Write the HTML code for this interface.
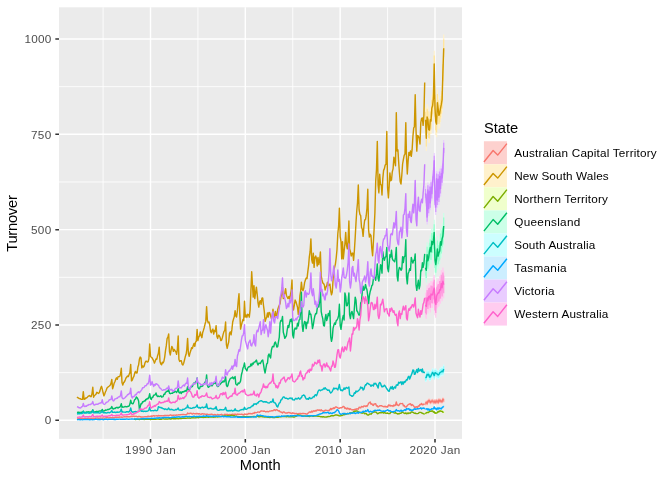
<!DOCTYPE html>
<html lang="en"><head><meta charset="utf-8"><title>Turnover by State</title>
<style>html,body{margin:0;padding:0;background:#fff}body{width:672px;height:480px;overflow:hidden;font-family:"Liberation Sans",sans-serif}svg{display:block}text{font-family:"Liberation Sans",sans-serif}.ax{font-size:11.73px;fill:#4D4D4D}.tt{font-size:14.67px;fill:#000}.lg{font-size:11.73px;fill:#000}.s{fill:none;stroke-width:1.42;stroke-linejoin:round;stroke-linecap:butt}</style></head><body>
<svg width="672" height="480" viewBox="0 0 672 480" role="img" aria-label="Turnover by State over Month">
<rect width="672" height="480" fill="#fff"/>
<rect x="59.00" y="7.30" width="403.00" height="431.60" fill="#EBEBEB"/>
<clipPath id="pc"><rect x="59.00" y="7.30" width="403.00" height="431.60"/></clipPath>
<path d="M59.00 372.64H462.00M59.00 277.31H462.00M59.00 181.99H462.00M59.00 86.66H462.00M103.08 7.30V438.90M197.92 7.30V438.90M292.75 7.30V438.90M387.58 7.30V438.90" stroke="#fff" stroke-width="0.85" fill="none"/>
<path d="M59.00 420.30H462.00M59.00 324.98H462.00M59.00 229.65H462.00M59.00 134.33H462.00M59.00 39.00H462.00M150.50 7.30V438.90M245.33 7.30V438.90M340.17 7.30V438.90M435.00 7.30V438.90" stroke="#fff" stroke-width="1.42" fill="none"/>
<path d="M55.33 420.30H59.00M55.33 324.98H59.00M55.33 229.65H59.00M55.33 134.33H59.00M55.33 39.00H59.00M150.50 438.90V442.57M245.33 438.90V442.57M340.17 438.90V442.57M435.00 438.90V442.57" stroke="#333" stroke-width="1.55" fill="none"/>
<text class="ax" x="44.80" y="424.00" textLength="6.01" lengthAdjust="spacing">0</text>
<text class="ax" x="30.90" y="329.18" textLength="20.28" lengthAdjust="spacing">250</text>
<text class="ax" x="30.90" y="233.85" textLength="20.28" lengthAdjust="spacing">500</text>
<text class="ax" x="30.90" y="138.53" textLength="20.28" lengthAdjust="spacing">750</text>
<text class="ax" x="24.40" y="43.20" textLength="26.80" lengthAdjust="spacing">1000</text>
<text class="ax" x="125.10" y="453.9" textLength="50.70" lengthAdjust="spacing">1990 Jan</text>
<text class="ax" x="219.93" y="453.9" textLength="50.70" lengthAdjust="spacing">2000 Jan</text>
<text class="ax" x="314.77" y="453.9" textLength="50.70" lengthAdjust="spacing">2010 Jan</text>
<text class="ax" x="409.60" y="453.9" textLength="50.70" lengthAdjust="spacing">2020 Jan</text>
<text class="tt" x="260.2" y="470" text-anchor="middle">Month</text>
<text class="tt" transform="translate(16.6 251.8) rotate(-90)" x="-0.00" y="0" textLength="56.59" lengthAdjust="spacing">Turnover</text>
<g clip-path="url(#pc)">
<polygon fill="#FDD1CE" points="425.5,401.5 426.3,400.3 427.1,401.3 427.9,399.4 428.7,398.6 429.5,398.6 430.3,400.2 431.0,399.6 431.8,398.9 432.6,398.8 433.4,399.7 434.2,400.0 435.0,399.0 435.8,400.1 436.6,398.8 437.4,399.1 438.2,400.1 438.9,397.9 439.7,398.7 440.5,398.5 441.3,399.2 442.1,399.2 442.9,397.2 443.7,398.1 443.7,402.7 442.9,401.8 442.1,403.8 441.3,403.7 440.5,403.0 439.7,403.3 438.9,402.4 438.2,404.7 437.4,403.6 436.6,403.3 435.8,404.7 435.0,403.5 434.2,404.5 433.4,404.2 432.6,403.2 431.8,403.3 431.0,404.0 430.3,404.6 429.5,403.0 428.7,403.0 427.9,403.8 427.1,405.6 426.3,404.6 425.5,405.7"/>
<path fill="#FDD1CE" d="M424.9 401.5h1.2v4.2h-1.2zM425.7 400.3h1.2v4.3h-1.2zM426.5 401.3h1.2v4.3h-1.2zM427.3 399.4h1.2v4.3h-1.2zM428.1 398.6h1.2v4.4h-1.2zM428.9 398.6h1.2v4.4h-1.2zM429.7 400.2h1.2v4.4h-1.2zM430.4 399.6h1.2v4.4h-1.2zM431.2 398.9h1.2v4.4h-1.2zM432.0 398.8h1.2v4.5h-1.2zM432.8 399.7h1.2v4.5h-1.2zM433.6 400.0h1.2v4.5h-1.2zM434.4 399.0h1.2v4.5h-1.2zM435.2 400.1h1.2v4.5h-1.2zM436.0 398.8h1.2v4.5h-1.2zM436.8 399.1h1.2v4.5h-1.2zM437.6 400.1h1.2v4.5h-1.2zM438.3 397.9h1.2v4.6h-1.2zM439.1 398.7h1.2v4.6h-1.2zM439.9 398.5h1.2v4.6h-1.2zM440.7 399.2h1.2v4.6h-1.2zM441.5 399.2h1.2v4.6h-1.2zM442.3 397.2h1.2v4.6h-1.2zM443.1 398.1h1.2v4.6h-1.2z"/>
<polygon fill="#FAA49E" points="425.5,402.3 426.3,401.1 427.1,402.1 427.9,400.2 428.7,399.4 429.5,399.4 430.3,401.0 431.0,400.4 431.8,399.7 432.6,399.6 433.4,400.5 434.2,400.8 435.0,399.8 435.8,401.0 436.6,399.6 437.4,399.9 438.2,401.0 438.9,398.7 439.7,399.5 440.5,399.3 441.3,400.0 442.1,400.1 442.9,398.0 443.7,398.9 443.7,401.9 442.9,400.9 442.1,403.0 441.3,402.9 440.5,402.2 439.7,402.5 438.9,401.6 438.2,403.9 437.4,402.8 436.6,402.5 435.8,403.8 435.0,402.7 434.2,403.6 433.4,403.4 432.6,402.4 431.8,402.5 431.0,403.2 430.3,403.8 429.5,402.2 428.7,402.2 427.9,403.0 427.1,404.8 426.3,403.8 425.5,404.9"/>
<path fill="#FAA49E" d="M424.9 402.3h1.2v2.7h-1.2zM425.7 401.1h1.2v2.7h-1.2zM426.5 402.1h1.2v2.8h-1.2zM427.3 400.2h1.2v2.8h-1.2zM428.1 399.4h1.2v2.8h-1.2zM428.9 399.4h1.2v2.8h-1.2zM429.7 401.0h1.2v2.8h-1.2zM430.4 400.4h1.2v2.8h-1.2zM431.2 399.7h1.2v2.8h-1.2zM432.0 399.6h1.2v2.9h-1.2zM432.8 400.5h1.2v2.9h-1.2zM433.6 400.8h1.2v2.9h-1.2zM434.4 399.8h1.2v2.9h-1.2zM435.2 401.0h1.2v2.9h-1.2zM436.0 399.6h1.2v2.9h-1.2zM436.8 399.9h1.2v2.9h-1.2zM437.6 401.0h1.2v2.9h-1.2zM438.3 398.7h1.2v2.9h-1.2zM439.1 399.5h1.2v2.9h-1.2zM439.9 399.3h1.2v2.9h-1.2zM440.7 400.0h1.2v2.9h-1.2zM441.5 400.1h1.2v2.9h-1.2zM442.3 398.0h1.2v3.0h-1.2zM443.1 398.9h1.2v3.0h-1.2z"/>
<polygon fill="#FFF1CC" points="425.5,107.4 426.3,125.7 427.1,104.1 427.9,106.5 428.7,116.8 429.5,117.2 430.3,106.7 431.0,108.0 431.8,95.2 432.6,92.4 433.4,85.1 434.2,50.8 435.0,95.0 435.8,108.4 436.6,110.6 437.4,89.2 438.2,95.6 438.9,102.0 439.7,99.9 440.5,94.8 441.3,91.2 442.1,86.1 442.9,58.9 443.7,34.6 443.7,61.9 442.9,86.2 442.1,113.3 441.3,118.3 440.5,121.8 439.7,126.9 438.9,128.9 438.2,122.5 437.4,116.0 436.6,137.4 435.8,135.1 435.0,121.6 434.2,77.2 433.4,111.5 432.6,118.7 431.8,121.4 431.0,134.1 430.3,132.7 429.5,143.1 428.7,142.6 427.9,132.2 427.1,129.6 426.3,150.9 425.5,132.1"/>
<path fill="#FFF1CC" d="M424.9 107.4h1.2v24.7h-1.2zM425.7 125.7h1.2v25.2h-1.2zM426.5 104.1h1.2v25.5h-1.2zM427.3 106.5h1.2v25.6h-1.2zM428.1 116.8h1.2v25.8h-1.2zM428.9 117.2h1.2v25.9h-1.2zM429.7 106.7h1.2v26.0h-1.2zM430.4 108.0h1.2v26.1h-1.2zM431.2 95.2h1.2v26.2h-1.2zM432.0 92.4h1.2v26.3h-1.2zM432.8 85.1h1.2v26.4h-1.2zM433.6 50.8h1.2v26.5h-1.2zM434.4 95.0h1.2v26.6h-1.2zM435.2 108.4h1.2v26.7h-1.2zM436.0 110.6h1.2v26.7h-1.2zM436.8 89.2h1.2v26.8h-1.2zM437.6 95.6h1.2v26.9h-1.2zM438.3 102.0h1.2v26.9h-1.2zM439.1 99.9h1.2v27.0h-1.2zM439.9 94.8h1.2v27.1h-1.2zM440.7 91.2h1.2v27.1h-1.2zM441.5 86.1h1.2v27.2h-1.2zM442.3 58.9h1.2v27.2h-1.2zM443.1 34.6h1.2v27.3h-1.2z"/>
<polygon fill="#FFE499" points="425.5,111.8 426.3,130.2 427.1,108.7 427.9,111.2 428.7,121.5 429.5,121.8 430.3,111.4 431.0,112.7 431.8,99.9 432.6,97.2 433.4,89.8 434.2,55.5 435.0,99.8 435.8,113.2 436.6,115.4 437.4,94.0 438.2,100.4 438.9,106.8 439.7,104.7 440.5,99.6 441.3,96.0 442.1,91.0 442.9,63.9 443.7,39.5 443.7,57.0 442.9,81.3 442.1,108.4 441.3,113.4 440.5,116.9 439.7,122.0 438.9,124.0 438.2,117.6 437.4,111.1 436.6,132.6 435.8,130.3 435.0,116.8 434.2,72.5 433.4,106.7 432.6,114.0 431.8,116.7 431.0,129.4 430.3,128.0 429.5,138.4 428.7,138.0 427.9,127.6 427.1,125.0 426.3,146.4 425.5,127.6"/>
<path fill="#FFE499" d="M424.9 111.8h1.2v15.8h-1.2zM425.7 130.2h1.2v16.2h-1.2zM426.5 108.7h1.2v16.3h-1.2zM427.3 111.2h1.2v16.4h-1.2zM428.1 121.5h1.2v16.5h-1.2zM428.9 121.8h1.2v16.6h-1.2zM429.7 111.4h1.2v16.7h-1.2zM430.4 112.7h1.2v16.7h-1.2zM431.2 99.9h1.2v16.8h-1.2zM432.0 97.2h1.2v16.8h-1.2zM432.8 89.8h1.2v16.9h-1.2zM433.6 55.5h1.2v17.0h-1.2zM434.4 99.8h1.2v17.0h-1.2zM435.2 113.2h1.2v17.1h-1.2zM436.0 115.4h1.2v17.1h-1.2zM436.8 94.0h1.2v17.2h-1.2zM437.6 100.4h1.2v17.2h-1.2zM438.3 106.8h1.2v17.2h-1.2zM439.1 104.7h1.2v17.3h-1.2zM439.9 99.6h1.2v17.3h-1.2zM440.7 96.0h1.2v17.4h-1.2zM441.5 91.0h1.2v17.4h-1.2zM442.3 63.9h1.2v17.4h-1.2zM443.1 39.5h1.2v17.5h-1.2z"/>
<polygon fill="#F0FFCC" points="425.5,412.9 426.3,411.7 427.1,411.6 427.9,411.5 428.7,411.6 429.5,410.3 430.3,410.4 431.0,410.5 431.8,410.1 432.6,410.0 433.4,411.3 434.2,410.9 435.0,412.2 435.8,412.1 436.6,412.2 437.4,411.6 438.2,410.4 438.9,410.9 439.7,410.1 440.5,409.9 441.3,410.5 442.1,410.4 442.9,411.2 443.7,411.5 443.7,413.3 442.9,413.1 442.1,412.3 441.3,412.3 440.5,411.8 439.7,411.9 438.9,412.8 438.2,412.3 437.4,413.4 436.6,414.0 435.8,413.9 435.0,414.1 434.2,412.7 433.4,413.1 432.6,411.8 431.8,411.9 431.0,412.3 430.3,412.2 429.5,412.1 428.7,413.4 427.9,413.3 427.1,413.4 426.3,413.5 425.5,414.6"/>
<path fill="#F0FFCC" d="M424.9 412.9h1.2v1.7h-1.2zM425.7 411.7h1.2v1.7h-1.2zM426.5 411.6h1.2v1.8h-1.2zM427.3 411.5h1.2v1.8h-1.2zM428.1 411.6h1.2v1.8h-1.2zM428.9 410.3h1.2v1.8h-1.2zM429.7 410.4h1.2v1.8h-1.2zM430.4 410.5h1.2v1.8h-1.2zM431.2 410.1h1.2v1.8h-1.2zM432.0 410.0h1.2v1.8h-1.2zM432.8 411.3h1.2v1.8h-1.2zM433.6 410.9h1.2v1.8h-1.2zM434.4 412.2h1.2v1.8h-1.2zM435.2 412.1h1.2v1.8h-1.2zM436.0 412.2h1.2v1.9h-1.2zM436.8 411.6h1.2v1.9h-1.2zM437.6 410.4h1.2v1.9h-1.2zM438.3 410.9h1.2v1.9h-1.2zM439.1 410.1h1.2v1.9h-1.2zM439.9 409.9h1.2v1.9h-1.2zM440.7 410.5h1.2v1.9h-1.2zM441.5 410.4h1.2v1.9h-1.2zM442.3 411.2h1.2v1.9h-1.2zM443.1 411.5h1.2v1.9h-1.2z"/>
<polygon fill="#E2FF99" points="425.5,413.2 426.3,412.0 427.1,412.0 427.9,411.8 428.7,412.0 429.5,410.7 430.3,410.7 431.0,410.8 431.8,410.4 432.6,410.3 433.4,411.6 434.2,411.2 435.0,412.6 435.8,412.4 436.6,412.5 437.4,411.9 438.2,410.8 438.9,411.3 439.7,410.4 440.5,410.3 441.3,410.8 442.1,410.8 442.9,411.5 443.7,411.8 443.7,413.0 442.9,412.7 442.1,412.0 441.3,412.0 440.5,411.5 439.7,411.6 438.9,412.5 438.2,412.0 437.4,413.1 436.6,413.7 435.8,413.6 435.0,413.8 434.2,412.4 433.4,412.8 432.6,411.5 431.8,411.6 431.0,412.0 430.3,411.9 429.5,411.8 428.7,413.1 427.9,413.0 427.1,413.1 426.3,413.1 425.5,414.3"/>
<path fill="#E2FF99" d="M424.9 413.2h1.2v1.1h-1.2zM425.7 412.0h1.2v1.1h-1.2zM426.5 412.0h1.2v1.1h-1.2zM427.3 411.8h1.2v1.1h-1.2zM428.1 412.0h1.2v1.1h-1.2zM428.9 410.7h1.2v1.1h-1.2zM429.7 410.7h1.2v1.2h-1.2zM430.4 410.8h1.2v1.2h-1.2zM431.2 410.4h1.2v1.2h-1.2zM432.0 410.3h1.2v1.2h-1.2zM432.8 411.6h1.2v1.2h-1.2zM433.6 411.2h1.2v1.2h-1.2zM434.4 412.6h1.2v1.2h-1.2zM435.2 412.4h1.2v1.2h-1.2zM436.0 412.5h1.2v1.2h-1.2zM436.8 411.9h1.2v1.2h-1.2zM437.6 410.8h1.2v1.2h-1.2zM438.3 411.3h1.2v1.2h-1.2zM439.1 410.4h1.2v1.2h-1.2zM439.9 410.3h1.2v1.2h-1.2zM440.7 410.8h1.2v1.2h-1.2zM441.5 410.8h1.2v1.2h-1.2zM442.3 411.5h1.2v1.2h-1.2zM443.1 411.8h1.2v1.2h-1.2z"/>
<polygon fill="#CCFFE8" points="425.5,255.9 426.3,258.2 427.1,242.3 427.9,248.5 428.7,245.0 429.5,238.8 430.3,234.9 431.0,239.4 431.8,228.5 432.6,231.9 433.4,228.2 434.2,219.7 435.0,247.0 435.8,251.8 436.6,245.5 437.4,236.0 438.2,243.2 438.9,240.2 439.7,238.1 440.5,228.7 441.3,232.0 442.1,225.8 442.9,223.0 443.7,212.9 443.7,239.1 442.9,249.2 442.1,251.9 441.3,258.1 440.5,254.7 439.7,264.1 438.9,266.1 438.2,269.0 437.4,261.7 436.6,271.2 435.8,277.4 435.0,272.5 434.2,245.2 433.4,253.6 432.6,257.2 431.8,253.8 431.0,264.5 430.3,259.9 429.5,263.7 428.7,269.8 427.9,273.2 427.1,266.8 426.3,282.4 425.5,279.7"/>
<path fill="#CCFFE8" d="M424.9 255.9h1.2v23.8h-1.2zM425.7 258.2h1.2v24.3h-1.2zM426.5 242.3h1.2v24.5h-1.2zM427.3 248.5h1.2v24.7h-1.2zM428.1 245.0h1.2v24.8h-1.2zM428.9 238.8h1.2v24.9h-1.2zM429.7 234.9h1.2v25.0h-1.2zM430.4 239.4h1.2v25.1h-1.2zM431.2 228.5h1.2v25.2h-1.2zM432.0 231.9h1.2v25.3h-1.2zM432.8 228.2h1.2v25.4h-1.2zM433.6 219.7h1.2v25.5h-1.2zM434.4 247.0h1.2v25.6h-1.2zM435.2 251.8h1.2v25.6h-1.2zM436.0 245.5h1.2v25.7h-1.2zM436.8 236.0h1.2v25.8h-1.2zM437.6 243.2h1.2v25.8h-1.2zM438.3 240.2h1.2v25.9h-1.2zM439.1 238.1h1.2v26.0h-1.2zM439.9 228.7h1.2v26.0h-1.2zM440.7 232.0h1.2v26.1h-1.2zM441.5 225.8h1.2v26.1h-1.2zM442.3 223.0h1.2v26.2h-1.2zM443.1 212.9h1.2v26.2h-1.2z"/>
<polygon fill="#99FFD0" points="425.5,260.2 426.3,262.5 427.1,246.7 427.9,252.9 428.7,249.5 429.5,243.3 430.3,239.4 431.0,243.9 431.8,233.1 432.6,236.5 433.4,232.8 434.2,224.3 435.0,251.6 435.8,256.4 436.6,250.1 437.4,240.6 438.2,247.8 438.9,244.9 439.7,242.8 440.5,233.4 441.3,236.7 442.1,230.5 442.9,227.7 443.7,217.6 443.7,234.4 442.9,244.5 442.1,247.2 441.3,253.4 440.5,250.0 439.7,259.4 438.9,261.4 438.2,264.4 437.4,257.1 436.6,266.5 435.8,272.8 435.0,267.9 434.2,240.6 433.4,249.1 432.6,252.7 431.8,249.2 431.0,260.0 430.3,255.4 429.5,259.2 428.7,265.4 427.9,268.7 427.1,262.4 426.3,278.1 425.5,275.4"/>
<path fill="#99FFD0" d="M424.9 260.2h1.2v15.2h-1.2zM425.7 262.5h1.2v15.5h-1.2zM426.5 246.7h1.2v15.7h-1.2zM427.3 252.9h1.2v15.8h-1.2zM428.1 249.5h1.2v15.9h-1.2zM428.9 243.3h1.2v15.9h-1.2zM429.7 239.4h1.2v16.0h-1.2zM430.4 243.9h1.2v16.1h-1.2zM431.2 233.1h1.2v16.1h-1.2zM432.0 236.5h1.2v16.2h-1.2zM432.8 232.8h1.2v16.3h-1.2zM433.6 224.3h1.2v16.3h-1.2zM434.4 251.6h1.2v16.4h-1.2zM435.2 256.4h1.2v16.4h-1.2zM436.0 250.1h1.2v16.4h-1.2zM436.8 240.6h1.2v16.5h-1.2zM437.6 247.8h1.2v16.5h-1.2zM438.3 244.9h1.2v16.6h-1.2zM439.1 242.8h1.2v16.6h-1.2zM439.9 233.4h1.2v16.7h-1.2zM440.7 236.7h1.2v16.7h-1.2zM441.5 230.5h1.2v16.7h-1.2zM442.3 227.7h1.2v16.8h-1.2zM443.1 217.6h1.2v16.8h-1.2z"/>
<polygon fill="#CCFEFF" points="425.5,374.0 426.3,373.2 427.1,370.1 427.9,370.9 428.7,370.1 429.5,372.8 430.3,372.8 431.0,371.4 431.8,369.8 432.6,368.1 433.4,369.4 434.2,371.3 435.0,368.5 435.8,368.7 436.6,369.4 437.4,369.9 438.2,370.7 438.9,370.1 439.7,368.6 440.5,367.7 441.3,367.5 442.1,366.6 442.9,367.4 443.7,364.6 443.7,373.4 442.9,376.2 442.1,375.4 441.3,376.3 440.5,376.5 439.7,377.4 438.9,378.8 438.2,379.3 437.4,378.5 436.6,378.1 435.8,377.3 435.0,377.1 434.2,379.9 433.4,377.9 432.6,376.6 431.8,378.2 431.0,379.8 430.3,381.2 429.5,381.2 428.7,378.4 427.9,379.1 427.1,378.3 426.3,381.4 425.5,382.0"/>
<path fill="#CCFEFF" d="M424.9 374.0h1.2v8.0h-1.2zM425.7 373.2h1.2v8.2h-1.2zM426.5 370.1h1.2v8.2h-1.2zM427.3 370.9h1.2v8.3h-1.2zM428.1 370.1h1.2v8.3h-1.2zM428.9 372.8h1.2v8.4h-1.2zM429.7 372.8h1.2v8.4h-1.2zM430.4 371.4h1.2v8.4h-1.2zM431.2 369.8h1.2v8.5h-1.2zM432.0 368.1h1.2v8.5h-1.2zM432.8 369.4h1.2v8.5h-1.2zM433.6 371.3h1.2v8.6h-1.2zM434.4 368.5h1.2v8.6h-1.2zM435.2 368.7h1.2v8.6h-1.2zM436.0 369.4h1.2v8.6h-1.2zM436.8 369.9h1.2v8.7h-1.2zM437.6 370.7h1.2v8.7h-1.2zM438.3 370.1h1.2v8.7h-1.2zM439.1 368.6h1.2v8.7h-1.2zM439.9 367.7h1.2v8.7h-1.2zM440.7 367.5h1.2v8.8h-1.2zM441.5 366.6h1.2v8.8h-1.2zM442.3 367.4h1.2v8.8h-1.2zM443.1 364.6h1.2v8.8h-1.2z"/>
<polygon fill="#99FCFF" points="425.5,375.4 426.3,374.7 427.1,371.5 427.9,372.3 428.7,371.6 429.5,374.4 430.3,374.3 431.0,372.9 431.8,371.3 432.6,369.7 433.4,370.9 434.2,372.9 435.0,370.0 435.8,370.2 436.6,371.0 437.4,371.4 438.2,372.2 438.9,371.7 439.7,370.2 440.5,369.3 441.3,369.1 442.1,368.2 442.9,368.9 443.7,366.2 443.7,371.8 442.9,374.6 442.1,373.8 441.3,374.7 440.5,374.9 439.7,375.8 438.9,377.2 438.2,377.8 437.4,377.0 436.6,376.5 435.8,375.8 435.0,375.5 434.2,378.3 433.4,376.4 432.6,375.1 431.8,376.7 431.0,378.3 430.3,379.7 429.5,379.7 428.7,376.9 427.9,377.7 427.1,376.8 426.3,379.9 425.5,380.6"/>
<path fill="#99FCFF" d="M424.9 375.4h1.2v5.1h-1.2zM425.7 374.7h1.2v5.2h-1.2zM426.5 371.5h1.2v5.3h-1.2zM427.3 372.3h1.2v5.3h-1.2zM428.1 371.6h1.2v5.3h-1.2zM428.9 374.4h1.2v5.4h-1.2zM429.7 374.3h1.2v5.4h-1.2zM430.4 372.9h1.2v5.4h-1.2zM431.2 371.3h1.2v5.4h-1.2zM432.0 369.7h1.2v5.4h-1.2zM432.8 370.9h1.2v5.5h-1.2zM433.6 372.9h1.2v5.5h-1.2zM434.4 370.0h1.2v5.5h-1.2zM435.2 370.2h1.2v5.5h-1.2zM436.0 371.0h1.2v5.5h-1.2zM436.8 371.4h1.2v5.5h-1.2zM437.6 372.2h1.2v5.6h-1.2zM438.3 371.7h1.2v5.6h-1.2zM439.1 370.2h1.2v5.6h-1.2zM439.9 369.3h1.2v5.6h-1.2zM440.7 369.1h1.2v5.6h-1.2zM441.5 368.2h1.2v5.6h-1.2zM442.3 368.9h1.2v5.6h-1.2zM443.1 366.2h1.2v5.6h-1.2z"/>
<polygon fill="#CCEEFF" points="425.5,408.1 426.3,408.0 427.1,407.7 427.9,408.9 428.7,407.9 429.5,409.3 430.3,408.6 431.0,408.4 431.8,407.7 432.6,407.9 433.4,407.8 434.2,406.0 435.0,407.7 435.8,407.5 436.6,408.6 437.4,407.1 438.2,408.0 438.9,406.8 439.7,407.5 440.5,407.3 441.3,407.7 442.1,406.6 442.9,406.0 443.7,405.3 443.7,407.4 442.9,408.1 442.1,408.6 441.3,409.8 440.5,409.4 439.7,409.6 438.9,408.9 438.2,410.0 437.4,409.2 436.6,410.7 435.8,409.5 435.0,409.7 434.2,408.0 433.4,409.8 432.6,409.9 431.8,409.7 431.0,410.4 430.3,410.6 429.5,411.3 428.7,409.9 427.9,410.9 427.1,409.6 426.3,410.0 425.5,410.0"/>
<path fill="#CCEEFF" d="M424.9 408.1h1.2v1.9h-1.2zM425.7 408.0h1.2v1.9h-1.2zM426.5 407.7h1.2v2.0h-1.2zM427.3 408.9h1.2v2.0h-1.2zM428.1 407.9h1.2v2.0h-1.2zM428.9 409.3h1.2v2.0h-1.2zM429.7 408.6h1.2v2.0h-1.2zM430.4 408.4h1.2v2.0h-1.2zM431.2 407.7h1.2v2.0h-1.2zM432.0 407.9h1.2v2.0h-1.2zM432.8 407.8h1.2v2.0h-1.2zM433.6 406.0h1.2v2.0h-1.2zM434.4 407.7h1.2v2.0h-1.2zM435.2 407.5h1.2v2.1h-1.2zM436.0 408.6h1.2v2.1h-1.2zM436.8 407.1h1.2v2.1h-1.2zM437.6 408.0h1.2v2.1h-1.2zM438.3 406.8h1.2v2.1h-1.2zM439.1 407.5h1.2v2.1h-1.2zM439.9 407.3h1.2v2.1h-1.2zM440.7 407.7h1.2v2.1h-1.2zM441.5 406.6h1.2v2.1h-1.2zM442.3 406.0h1.2v2.1h-1.2zM443.1 405.3h1.2v2.1h-1.2z"/>
<polygon fill="#99DDFF" points="425.5,408.5 426.3,408.4 427.1,408.0 427.9,409.3 428.7,408.3 429.5,409.7 430.3,409.0 431.0,408.8 431.8,408.0 432.6,408.2 433.4,408.2 434.2,406.3 435.0,408.0 435.8,407.8 436.6,409.0 437.4,407.5 438.2,408.3 438.9,407.2 439.7,407.9 440.5,407.7 441.3,408.1 442.1,406.9 442.9,406.4 443.7,405.7 443.7,407.1 442.9,407.7 442.1,408.3 441.3,409.4 440.5,409.1 439.7,409.3 438.9,408.5 438.2,409.7 437.4,408.8 436.6,410.3 435.8,409.1 435.0,409.4 434.2,407.7 433.4,409.5 432.6,409.5 431.8,409.3 431.0,410.1 430.3,410.2 429.5,410.9 428.7,409.5 427.9,410.6 427.1,409.3 426.3,409.6 425.5,409.7"/>
<path fill="#99DDFF" d="M424.9 408.5h1.2v1.2h-1.2zM425.7 408.4h1.2v1.2h-1.2zM426.5 408.0h1.2v1.3h-1.2zM427.3 409.3h1.2v1.3h-1.2zM428.1 408.3h1.2v1.3h-1.2zM428.9 409.7h1.2v1.3h-1.2zM429.7 409.0h1.2v1.3h-1.2zM430.4 408.8h1.2v1.3h-1.2zM431.2 408.0h1.2v1.3h-1.2zM432.0 408.2h1.2v1.3h-1.2zM432.8 408.2h1.2v1.3h-1.2zM433.6 406.3h1.2v1.3h-1.2zM434.4 408.0h1.2v1.3h-1.2zM435.2 407.8h1.2v1.3h-1.2zM436.0 409.0h1.2v1.3h-1.2zM436.8 407.5h1.2v1.3h-1.2zM437.6 408.3h1.2v1.3h-1.2zM438.3 407.2h1.2v1.3h-1.2zM439.1 407.9h1.2v1.3h-1.2zM439.9 407.7h1.2v1.3h-1.2zM440.7 408.1h1.2v1.3h-1.2zM441.5 406.9h1.2v1.3h-1.2zM442.3 406.4h1.2v1.3h-1.2zM443.1 405.7h1.2v1.3h-1.2z"/>
<polygon fill="#E9CCFF" points="425.5,186.3 426.3,191.3 427.1,209.8 427.9,182.6 428.7,201.1 429.5,184.0 430.3,195.3 431.0,179.6 431.8,186.0 432.6,173.8 433.4,167.6 434.2,153.1 435.0,192.5 435.8,199.5 436.6,170.9 437.4,192.3 438.2,171.5 438.9,189.4 439.7,168.6 440.5,180.8 441.3,165.7 442.1,170.0 442.9,160.7 443.7,140.0 443.7,155.7 442.9,176.4 442.1,185.7 441.3,181.4 440.5,196.4 439.7,184.2 438.9,204.9 438.2,187.0 437.4,207.7 436.6,186.3 435.8,214.8 435.0,207.8 434.2,168.4 433.4,182.8 432.6,189.0 431.8,201.1 431.0,194.7 430.3,210.4 429.5,198.9 428.7,216.0 427.9,197.4 427.1,224.5 426.3,205.9 425.5,200.6"/>
<path fill="#E9CCFF" d="M424.9 186.3h1.2v14.2h-1.2zM425.7 191.3h1.2v14.6h-1.2zM426.5 209.8h1.2v14.7h-1.2zM427.3 182.6h1.2v14.8h-1.2zM428.1 201.1h1.2v14.9h-1.2zM428.9 184.0h1.2v14.9h-1.2zM429.7 195.3h1.2v15.0h-1.2zM430.4 179.6h1.2v15.1h-1.2zM431.2 186.0h1.2v15.1h-1.2zM432.0 173.8h1.2v15.2h-1.2zM432.8 167.6h1.2v15.2h-1.2zM433.6 153.1h1.2v15.3h-1.2zM434.4 192.5h1.2v15.3h-1.2zM435.2 199.5h1.2v15.4h-1.2zM436.0 170.9h1.2v15.4h-1.2zM436.8 192.3h1.2v15.5h-1.2zM437.6 171.5h1.2v15.5h-1.2zM438.3 189.4h1.2v15.5h-1.2zM439.1 168.6h1.2v15.6h-1.2zM439.9 180.8h1.2v15.6h-1.2zM440.7 165.7h1.2v15.6h-1.2zM441.5 170.0h1.2v15.7h-1.2zM442.3 160.7h1.2v15.7h-1.2zM443.1 140.0h1.2v15.8h-1.2z"/>
<polygon fill="#D399FF" points="425.5,188.9 426.3,193.9 427.1,212.4 427.9,185.3 428.7,203.8 429.5,186.6 430.3,198.1 431.0,182.3 431.8,188.7 432.6,176.6 433.4,170.3 434.2,155.8 435.0,195.3 435.8,202.2 436.6,173.6 437.4,195.1 438.2,174.3 438.9,192.2 439.7,171.4 440.5,183.6 441.3,168.6 442.1,172.8 442.9,163.5 443.7,142.8 443.7,152.9 442.9,173.6 442.1,182.9 441.3,178.6 440.5,193.6 439.7,181.4 438.9,202.1 438.2,184.2 437.4,204.9 436.6,183.5 435.8,212.1 435.0,205.1 434.2,165.6 433.4,180.1 432.6,186.3 431.8,198.4 431.0,192.0 430.3,207.7 429.5,196.2 428.7,213.3 427.9,194.7 427.1,221.8 426.3,203.2 425.5,198.0"/>
<path fill="#D399FF" d="M424.9 188.9h1.2v9.1h-1.2zM425.7 193.9h1.2v9.3h-1.2zM426.5 212.4h1.2v9.4h-1.2zM427.3 185.3h1.2v9.5h-1.2zM428.1 203.8h1.2v9.5h-1.2zM428.9 186.6h1.2v9.6h-1.2zM429.7 198.1h1.2v9.6h-1.2zM430.4 182.3h1.2v9.6h-1.2zM431.2 188.7h1.2v9.7h-1.2zM432.0 176.6h1.2v9.7h-1.2zM432.8 170.3h1.2v9.8h-1.2zM433.6 155.8h1.2v9.8h-1.2zM434.4 195.3h1.2v9.8h-1.2zM435.2 202.2h1.2v9.8h-1.2zM436.0 173.6h1.2v9.9h-1.2zM436.8 195.1h1.2v9.9h-1.2zM437.6 174.3h1.2v9.9h-1.2zM438.3 192.2h1.2v9.9h-1.2zM439.1 171.4h1.2v10.0h-1.2zM439.9 183.6h1.2v10.0h-1.2zM440.7 168.6h1.2v10.0h-1.2zM441.5 172.8h1.2v10.0h-1.2zM442.3 163.5h1.2v10.1h-1.2zM443.1 142.8h1.2v10.1h-1.2z"/>
<polygon fill="#FFCCEF" points="425.5,292.8 426.3,293.8 427.1,285.3 427.9,287.9 428.7,283.7 429.5,283.0 430.3,286.4 431.0,280.9 431.8,281.8 432.6,281.8 433.4,277.6 434.2,274.9 435.0,288.7 435.8,291.1 436.6,282.6 437.4,280.9 438.2,279.3 438.9,279.5 439.7,276.1 440.5,276.3 441.3,269.9 442.1,274.1 442.9,267.5 443.7,270.9 443.7,298.2 442.9,294.8 442.1,301.3 441.3,297.0 440.5,303.4 439.7,303.1 438.9,306.5 438.2,306.2 437.4,307.7 436.6,309.4 435.8,317.8 435.0,315.3 434.2,301.4 433.4,304.1 432.6,308.1 431.8,308.1 431.0,307.1 430.3,312.4 429.5,309.0 428.7,309.5 427.9,313.5 427.1,310.7 426.3,319.0 425.5,317.5"/>
<path fill="#FFCCEF" d="M424.9 292.8h1.2v24.7h-1.2zM425.7 293.8h1.2v25.2h-1.2zM426.5 285.3h1.2v25.5h-1.2zM427.3 287.9h1.2v25.6h-1.2zM428.1 283.7h1.2v25.8h-1.2zM428.9 283.0h1.2v25.9h-1.2zM429.7 286.4h1.2v26.0h-1.2zM430.4 280.9h1.2v26.1h-1.2zM431.2 281.8h1.2v26.2h-1.2zM432.0 281.8h1.2v26.3h-1.2zM432.8 277.6h1.2v26.4h-1.2zM433.6 274.9h1.2v26.5h-1.2zM434.4 288.7h1.2v26.6h-1.2zM435.2 291.1h1.2v26.7h-1.2zM436.0 282.6h1.2v26.7h-1.2zM436.8 280.9h1.2v26.8h-1.2zM437.6 279.3h1.2v26.9h-1.2zM438.3 279.5h1.2v26.9h-1.2zM439.1 276.1h1.2v27.0h-1.2zM439.9 276.3h1.2v27.1h-1.2zM440.7 269.9h1.2v27.1h-1.2zM441.5 274.1h1.2v27.2h-1.2zM442.3 267.5h1.2v27.2h-1.2zM443.1 270.9h1.2v27.3h-1.2z"/>
<polygon fill="#FF99DE" points="425.5,297.2 426.3,298.4 427.1,289.9 427.9,292.5 428.7,288.3 429.5,287.7 430.3,291.1 431.0,285.6 431.8,286.5 432.6,286.5 433.4,282.4 434.2,279.7 435.0,293.5 435.8,295.9 436.6,287.4 437.4,285.7 438.2,284.1 438.9,284.4 439.7,281.0 440.5,281.2 441.3,274.8 442.1,279.0 442.9,272.4 443.7,275.8 443.7,293.3 442.9,289.9 442.1,296.4 441.3,292.1 440.5,298.5 439.7,298.2 438.9,301.6 438.2,301.3 437.4,302.8 436.6,304.6 435.8,313.0 435.0,310.5 434.2,296.6 433.4,299.3 432.6,303.4 431.8,303.3 431.0,302.4 430.3,307.7 429.5,304.3 428.7,304.8 427.9,308.9 427.1,306.1 426.3,314.5 425.5,313.0"/>
<path fill="#FF99DE" d="M424.9 297.2h1.2v15.8h-1.2zM425.7 298.4h1.2v16.2h-1.2zM426.5 289.9h1.2v16.3h-1.2zM427.3 292.5h1.2v16.4h-1.2zM428.1 288.3h1.2v16.5h-1.2zM428.9 287.7h1.2v16.6h-1.2zM429.7 291.1h1.2v16.7h-1.2zM430.4 285.6h1.2v16.7h-1.2zM431.2 286.5h1.2v16.8h-1.2zM432.0 286.5h1.2v16.8h-1.2zM432.8 282.4h1.2v16.9h-1.2zM433.6 279.7h1.2v17.0h-1.2zM434.4 293.5h1.2v17.0h-1.2zM435.2 295.9h1.2v17.1h-1.2zM436.0 287.4h1.2v17.1h-1.2zM436.8 285.7h1.2v17.2h-1.2zM437.6 284.1h1.2v17.2h-1.2zM438.3 284.4h1.2v17.2h-1.2zM439.1 281.0h1.2v17.3h-1.2zM439.9 281.2h1.2v17.3h-1.2zM440.7 274.8h1.2v17.4h-1.2zM441.5 279.0h1.2v17.4h-1.2zM442.3 272.4h1.2v17.4h-1.2zM443.1 275.8h1.2v17.5h-1.2z"/>
<polyline class="s" stroke="#F8766D" points="425.5,403.6 426.3,402.5 427.1,403.4 427.9,401.6 428.7,400.8 429.5,400.8 430.3,402.4 431.0,401.8 431.8,401.1 432.6,401.0 433.4,401.9 434.2,402.2 435.0,401.2 435.8,402.4 436.6,401.0 437.4,401.3 438.2,402.4 438.9,400.2 439.7,401.0 440.5,400.8 441.3,401.4 442.1,401.5 442.9,399.5 443.7,400.4"/>
<polyline class="s" stroke="#CD9600" points="425.5,119.7 426.3,138.3 427.1,116.9 427.9,119.4 428.7,129.7 429.5,130.1 430.3,119.7 431.0,121.1 431.8,108.3 432.6,105.6 433.4,98.3 434.2,64.0 435.0,108.3 435.8,121.7 436.6,124.0 437.4,102.6 438.2,109.0 438.9,115.4 439.7,113.4 440.5,108.3 441.3,104.7 442.1,99.7 442.9,72.6 443.7,48.3"/>
<polyline class="s" stroke="#7CAE00" points="425.5,413.8 426.3,412.6 427.1,412.5 427.9,412.4 428.7,412.5 429.5,411.2 430.3,411.3 431.0,411.4 431.8,411.0 432.6,410.9 433.4,412.2 434.2,411.8 435.0,413.2 435.8,413.0 436.6,413.1 437.4,412.5 438.2,411.4 438.9,411.9 439.7,411.0 440.5,410.9 441.3,411.4 442.1,411.4 442.9,412.1 443.7,412.4"/>
<polyline class="s" stroke="#00BE67" points="425.5,267.8 426.3,270.3 427.1,254.6 427.9,260.8 428.7,257.4 429.5,251.2 430.3,247.4 431.0,251.9 431.8,241.2 432.6,244.6 433.4,240.9 434.2,232.4 435.0,259.8 435.8,264.6 436.6,258.3 437.4,248.9 438.2,256.1 438.9,253.1 439.7,251.1 440.5,241.7 441.3,245.1 442.1,238.9 442.9,236.1 443.7,226.0"/>
<polyline class="s" stroke="#00BFC4" points="425.5,378.0 426.3,377.3 427.1,374.2 427.9,375.0 428.7,374.2 429.5,377.0 430.3,377.0 431.0,375.6 431.8,374.0 432.6,372.4 433.4,373.7 434.2,375.6 435.0,372.8 435.8,373.0 436.6,373.7 437.4,374.2 438.2,375.0 438.9,374.5 439.7,373.0 440.5,372.1 441.3,371.9 442.1,371.0 442.9,371.8 443.7,369.0"/>
<polyline class="s" stroke="#00A9FF" points="425.5,409.1 426.3,409.0 427.1,408.7 427.9,409.9 428.7,408.9 429.5,410.3 430.3,409.6 431.0,409.4 431.8,408.7 432.6,408.9 433.4,408.8 434.2,407.0 435.0,408.7 435.8,408.5 436.6,409.7 437.4,408.1 438.2,409.0 438.9,407.9 439.7,408.6 440.5,408.4 441.3,408.8 442.1,407.6 442.9,407.0 443.7,406.4"/>
<polyline class="s" stroke="#C77CFF" points="425.5,193.4 426.3,198.6 427.1,217.1 427.9,190.0 428.7,208.6 429.5,191.4 430.3,202.9 431.0,187.1 431.8,193.6 432.6,181.4 433.4,175.2 434.2,160.7 435.0,200.2 435.8,207.1 436.6,178.6 437.4,200.0 438.2,179.3 438.9,197.1 439.7,176.4 440.5,188.6 441.3,173.6 442.1,177.9 442.9,168.6 443.7,147.9"/>
<polyline class="s" stroke="#FF61CC" points="425.5,305.1 426.3,306.4 427.1,298.0 427.9,300.7 428.7,296.6 429.5,296.0 430.3,299.4 431.0,294.0 431.8,294.9 432.6,294.9 433.4,290.9 434.2,288.1 435.0,302.0 435.8,304.4 436.6,296.0 437.4,294.3 438.2,292.7 438.9,293.0 439.7,289.6 440.5,289.9 441.3,283.5 442.1,287.7 442.9,281.1 443.7,284.6"/>
<polyline class="s" stroke="#F8766D" points="77.0,418.7 77.8,418.9 78.6,418.7 79.4,418.7 80.2,418.6 81.0,418.5 81.7,418.6 82.5,418.4 83.3,418.7 84.1,418.5 84.9,418.6 85.7,418.5 86.5,418.6 87.3,418.4 88.1,418.2 88.9,418.5 89.6,418.6 90.4,418.4 91.2,418.4 92.0,418.2 92.8,418.2 93.6,418.1 94.4,418.3 95.2,418.4 96.0,418.0 96.8,418.1 97.5,418.0 98.3,418.3 99.1,418.3 99.9,418.1 100.7,418.0 101.5,418.1 102.3,418.2 103.1,417.8 103.9,418.1 104.7,418.1 105.4,417.9 106.2,417.8 107.0,417.8 107.8,417.7 108.6,417.9 109.4,417.8 110.2,417.6 111.0,417.8 111.8,417.6 112.6,417.7 113.4,417.6 114.1,417.8 114.9,417.3 115.7,417.3 116.5,417.3 117.3,417.4 118.1,417.1 118.9,417.4 119.7,417.0 120.5,417.1 121.3,417.0 122.0,417.3 122.8,417.1 123.6,416.9 124.4,416.8 125.2,416.9 126.0,416.8 126.8,416.7 127.6,416.8 128.4,416.7 129.2,416.6 129.9,416.8 130.7,416.5 131.5,416.3 132.3,416.5 133.1,416.1 133.9,416.3 134.7,416.5 135.5,416.4 136.3,416.3 137.1,416.7 137.9,416.8 138.6,416.5 139.4,416.5 140.2,416.6 141.0,417.0 141.8,416.9 142.6,417.0 143.4,416.9 144.2,416.9 145.0,416.6 145.8,416.6 146.5,416.7 147.3,416.7 148.1,416.2 148.9,416.5 149.7,416.4 150.5,416.4 151.3,416.0 152.1,416.3 152.9,415.9 153.7,415.7 154.4,416.2 155.2,415.9 156.0,415.9 156.8,415.6 157.6,416.1 158.4,415.5 159.2,415.7 160.0,415.8 160.8,415.7 161.6,415.8 162.3,415.9 163.1,415.6 163.9,415.7 164.7,415.5 165.5,415.5 166.3,415.4 167.1,415.6 167.9,415.3 168.7,415.6 169.5,415.3 170.3,415.0 171.0,415.0 171.8,415.6 172.6,415.3 173.4,415.3 174.2,415.1 175.0,415.1 175.8,415.3 176.6,414.9 177.4,415.1 178.2,414.9 178.9,414.8 179.7,414.9 180.5,414.7 181.3,414.6 182.1,414.4 182.9,414.7 183.7,414.4 184.5,414.6 185.3,414.6 186.1,414.6 186.8,414.5 187.6,413.0 188.4,413.6 189.2,413.7 190.0,413.3 190.8,413.1 191.6,413.6 192.4,414.0 193.2,413.3 194.0,413.6 194.8,413.8 195.5,413.8 196.3,413.5 197.1,413.7 197.9,413.5 198.7,414.1 199.5,413.7 200.3,414.1 201.1,414.4 201.9,413.7 202.7,413.7 203.4,414.1 204.2,414.0 205.0,414.0 205.8,414.5 206.6,414.3 207.4,414.2 208.2,414.5 209.0,414.6 209.8,414.4 210.6,414.4 211.3,414.1 212.1,414.2 212.9,414.8 213.7,415.0 214.5,414.5 215.3,414.7 216.1,415.2 216.9,414.9 217.7,414.5 218.5,414.9 219.2,414.9 220.0,414.8 220.8,414.7 221.6,414.3 222.4,414.9 223.2,415.1 224.0,414.8 224.8,414.2 225.6,414.7 226.4,414.6 227.2,414.2 227.9,414.9 228.7,414.7 229.5,414.5 230.3,414.8 231.1,414.4 231.9,414.7 232.7,414.1 233.5,414.6 234.3,414.3 235.1,414.1 235.8,414.3 236.6,414.7 237.4,414.0 238.2,414.5 239.0,414.1 239.8,414.4 240.6,414.4 241.4,414.3 242.2,414.3 243.0,414.8 243.7,414.7 244.5,414.0 245.3,414.4 246.1,414.1 246.9,414.2 247.7,414.3 248.5,413.5 249.3,413.7 250.1,413.4 250.9,413.9 251.7,413.6 252.4,413.7 253.2,413.0 254.0,413.5 254.8,412.3 255.6,412.7 256.4,412.6 257.2,412.4 258.0,411.9 258.8,412.1 259.6,412.3 260.3,411.3 261.1,411.0 261.9,411.0 262.7,411.1 263.5,411.2 264.3,411.0 265.1,411.5 265.9,412.0 266.7,411.5 267.5,411.5 268.2,411.8 269.0,411.5 269.8,411.0 270.6,411.1 271.4,410.8 272.2,410.6 273.0,410.7 273.8,410.0 274.6,409.7 275.4,410.5 276.1,409.7 276.9,409.7 277.7,410.4 278.5,411.0 279.3,410.7 280.1,411.8 280.9,412.0 281.7,412.4 282.5,413.0 283.3,411.9 284.1,412.0 284.8,412.6 285.6,413.0 286.4,412.9 287.2,413.0 288.0,412.6 288.8,412.5 289.6,412.7 290.4,413.0 291.2,413.3 292.0,413.5 292.7,412.8 293.5,413.2 294.3,413.3 295.1,413.8 295.9,413.4 296.7,413.5 297.5,414.0 298.3,413.6 299.1,413.5 299.9,413.7 300.6,413.5 301.4,413.8 302.2,413.5 303.0,413.5 303.8,413.4 304.6,413.6 305.4,413.7 306.2,414.0 307.0,414.1 307.8,413.4 308.6,412.8 309.3,412.0 310.1,412.0 310.9,412.4 311.7,411.1 312.5,412.0 313.3,411.0 314.1,410.8 314.9,411.3 315.7,410.4 316.5,410.9 317.2,409.9 318.0,410.0 318.8,410.3 319.6,410.0 320.4,410.8 321.2,409.7 322.0,410.9 322.8,410.8 323.6,411.4 324.4,411.0 325.1,410.2 325.9,410.3 326.7,410.4 327.5,410.6 328.3,410.4 329.1,410.7 329.9,409.8 330.7,408.4 331.5,409.6 332.3,408.4 333.0,408.7 333.8,407.8 334.6,408.4 335.4,407.0 336.2,407.0 337.0,407.4 337.8,407.8 338.6,408.2 339.4,408.4 340.2,407.6 341.0,407.9 341.7,407.7 342.5,407.1 343.3,406.4 344.1,406.7 344.9,408.4 345.7,408.0 346.5,409.0 347.3,408.1 348.1,408.9 348.9,408.4 349.6,409.5 350.4,408.8 351.2,409.5 352.0,410.0 352.8,409.7 353.6,409.7 354.4,409.8 355.2,409.1 356.0,409.6 356.8,408.7 357.5,408.9 358.3,409.3 359.1,407.2 359.9,407.6 360.7,407.9 361.5,406.4 362.3,406.6 363.1,407.0 363.9,406.0 364.7,406.0 365.5,406.5 366.2,405.8 367.0,406.4 367.8,405.0 368.6,403.4 369.4,402.5 370.2,402.0 371.0,404.3 371.8,403.7 372.6,405.0 373.4,405.4 374.1,403.9 374.9,404.0 375.7,403.8 376.5,406.0 377.3,405.8 378.1,407.0 378.9,406.5 379.7,405.7 380.5,405.8 381.3,405.7 382.0,406.0 382.8,406.3 383.6,406.7 384.4,406.7 385.2,406.2 386.0,407.0 386.8,406.7 387.6,407.1 388.4,405.0 389.2,405.8 389.9,405.0 390.7,406.1 391.5,405.7 392.3,405.7 393.1,406.4 393.9,404.9 394.7,405.7 395.5,405.1 396.3,402.0 397.1,405.1 397.9,405.0 398.6,405.6 399.4,404.7 400.2,403.5 401.0,403.6 401.8,403.6 402.6,403.4 403.4,405.8 404.2,405.4 405.0,406.8 405.8,407.0 406.5,406.9 407.3,405.5 408.1,404.8 408.9,404.2 409.7,404.0 410.5,403.8 411.3,405.5 412.1,404.5 412.9,405.1 413.7,406.0 414.4,407.2 415.2,407.3 416.0,406.8 416.8,407.0 417.6,407.4 418.4,405.9 419.2,406.1 420.0,404.4 420.8,404.7 421.6,403.4 422.4,404.8 423.1,404.8 423.9,404.0 424.7,404.5"/>
<polyline class="s" stroke="#CD9600" points="77.0,396.9 77.8,397.7 78.6,398.1 79.4,398.6 80.2,398.7 81.0,399.2 81.7,399.4 82.5,399.4 83.3,391.6 84.1,399.4 84.9,399.1 85.7,398.0 86.5,398.1 87.3,397.3 88.1,396.4 88.9,395.9 89.6,395.5 90.4,396.5 91.2,396.6 92.0,393.8 92.8,387.3 93.6,397.3 94.4,395.5 95.2,395.0 96.0,394.2 96.8,392.3 97.5,392.6 98.3,393.5 99.1,393.0 99.9,391.1 100.7,388.1 101.5,386.3 102.3,389.1 103.1,392.8 103.9,395.9 104.7,394.1 105.4,392.0 106.2,390.2 107.0,388.0 107.8,387.2 108.6,386.5 109.4,386.0 110.2,385.1 111.0,383.4 111.8,379.4 112.6,388.7 113.4,386.2 114.1,383.3 114.9,381.7 115.7,379.4 116.5,377.8 117.3,379.3 118.1,376.6 118.9,376.6 119.7,376.6 120.5,374.1 121.3,368.3 122.0,382.6 122.8,385.1 123.6,382.6 124.4,381.9 125.2,380.1 126.0,378.0 126.8,377.0 127.6,376.0 128.4,376.6 129.2,374.1 129.9,372.9 130.7,364.4 131.5,380.9 132.3,380.1 133.1,377.7 133.9,376.4 134.7,373.1 135.5,371.4 136.3,373.1 137.1,372.9 137.9,367.1 138.6,365.1 139.4,359.3 140.2,357.1 141.0,357.9 141.8,367.9 142.6,366.0 143.4,367.1 144.2,366.0 145.0,362.9 145.8,361.3 146.5,361.2 147.3,362.1 148.1,361.7 148.9,358.6 149.7,344.0 150.5,356.4 151.3,357.3 152.1,357.9 152.9,359.4 153.7,360.9 154.4,363.1 155.2,361.3 156.0,359.0 156.8,359.3 157.6,355.7 158.4,353.1 159.2,347.1 160.0,361.5 160.8,364.0 161.6,364.7 162.3,362.3 163.1,362.9 163.9,361.2 164.7,357.1 165.5,350.6 166.3,345.7 167.1,338.6 167.9,337.2 168.7,334.0 169.5,351.9 170.3,355.0 171.0,350.6 171.8,346.4 172.6,347.9 173.4,351.4 174.2,349.5 175.0,350.7 175.8,351.6 176.6,354.3 177.4,348.8 178.2,336.0 178.9,359.3 179.7,361.4 180.5,360.7 181.3,360.6 182.1,364.2 182.9,365.0 183.7,363.2 184.5,360.0 185.3,356.6 186.1,354.3 186.8,349.5 187.6,338.4 188.4,353.6 189.2,356.3 190.0,352.9 190.8,350.6 191.6,347.7 192.4,348.4 193.2,345.8 194.0,343.4 194.8,346.3 195.5,342.1 196.3,341.2 197.1,329.4 197.9,340.6 198.7,337.2 199.5,335.8 200.3,332.0 201.1,335.6 201.9,337.7 202.7,332.5 203.4,330.4 204.2,327.7 205.0,324.3 205.8,321.4 206.6,306.6 207.4,320.3 208.2,322.7 209.0,322.0 209.8,325.3 210.6,331.5 211.3,332.7 212.1,330.2 212.9,329.1 213.7,334.1 214.5,330.4 215.3,331.6 216.1,325.6 216.9,336.5 217.7,338.4 218.5,335.1 219.2,335.6 220.0,337.2 220.8,340.6 221.6,340.1 222.4,337.5 223.2,334.1 224.0,331.4 224.8,330.5 225.6,322.0 226.4,344.5 227.2,348.4 227.9,345.0 228.7,342.0 229.5,333.4 230.3,331.9 231.1,334.9 231.9,329.4 232.7,322.0 233.5,319.1 234.3,316.6 235.1,310.6 235.8,316.0 236.6,317.0 237.4,310.9 238.2,301.3 239.0,293.7 239.8,314.1 240.6,329.1 241.4,325.3 242.2,322.0 243.0,319.5 243.7,320.6 244.5,301.3 245.3,317.1 246.1,314.9 246.9,317.4 247.7,314.3 248.5,314.6 249.3,317.1 250.1,310.0 250.9,291.1 251.7,271.7 252.4,283.9 253.2,297.1 254.0,285.7 254.8,298.6 255.6,292.9 256.4,287.1 257.2,294.3 258.0,302.6 258.8,307.1 259.6,301.8 260.3,300.7 261.1,304.3 261.9,298.2 262.7,297.9 263.5,305.5 264.3,311.4 265.1,321.4 265.9,319.1 266.7,317.0 267.5,312.9 268.2,317.1 269.0,312.4 269.8,312.9 270.6,315.9 271.4,318.6 272.2,315.8 273.0,309.3 273.8,316.0 274.6,317.1 275.4,311.4 276.1,315.9 276.9,315.7 277.7,309.8 278.5,307.1 279.3,305.3 280.1,303.5 280.9,297.1 281.7,294.1 282.5,287.1 283.3,298.6 284.1,295.6 284.8,292.9 285.6,288.6 286.4,295.2 287.2,297.0 288.0,298.6 288.8,296.5 289.6,299.0 290.4,295.0 291.2,290.5 292.0,280.0 292.7,305.5 293.5,310.0 294.3,305.4 295.1,300.0 295.9,301.5 296.7,304.4 297.5,307.1 298.3,314.3 299.1,306.8 299.9,295.7 300.6,291.6 301.4,282.1 302.2,289.4 303.0,290.7 303.8,288.1 304.6,282.6 305.4,280.0 306.2,278.0 307.0,278.6 307.8,271.6 308.6,265.7 309.3,257.1 310.1,251.7 310.9,238.9 311.7,259.5 312.5,263.1 313.3,253.1 314.1,267.4 314.9,257.5 315.7,256.0 316.5,258.7 317.2,266.0 318.0,257.4 318.8,264.6 319.6,260.8 320.4,252.0 321.2,275.8 322.0,280.0 322.8,283.0 323.6,283.6 324.4,285.2 325.1,290.0 325.9,287.2 326.7,286.0 327.5,282.1 328.3,285.5 329.1,285.4 329.9,284.0 330.7,290.8 331.5,294.8 332.3,292.0 333.0,280.9 333.8,270.0 334.6,267.3 335.4,264.1 336.2,258.0 337.0,249.5 337.8,234.0 338.6,226.2 339.4,208.1 340.2,236.7 341.0,241.7 341.7,258.9 342.5,241.7 343.3,258.9 344.1,251.2 344.9,244.0 345.7,232.4 346.5,245.2 347.3,248.9 348.1,240.5 348.9,221.0 349.6,248.9 350.4,251.4 351.2,256.0 352.0,253.5 352.8,253.1 353.6,260.3 354.4,250.3 355.2,237.4 356.0,222.8 356.8,210.3 357.5,202.7 358.3,185.0 359.1,209.9 359.9,214.3 360.7,215.7 361.5,227.3 362.3,229.2 363.1,236.4 363.9,226.4 364.7,220.0 365.5,219.6 366.2,215.7 367.0,207.8 367.8,189.3 368.6,230.0 369.4,237.1 370.2,234.3 371.0,235.7 371.8,248.5 372.6,255.7 373.4,242.0 374.1,229.2 374.9,212.9 375.7,181.4 376.5,169.4 377.3,141.4 378.1,185.1 378.9,192.9 379.7,174.3 380.5,184.6 381.3,184.9 382.0,195.0 382.8,178.6 383.6,170.4 384.4,168.6 385.2,165.0 386.0,164.3 386.8,131.4 387.6,187.9 388.4,197.9 389.2,185.6 389.9,172.9 390.7,180.7 391.5,180.0 392.3,171.8 393.1,168.6 393.9,157.1 394.7,160.9 395.5,165.7 396.3,112.6 397.1,151.1 397.9,149.9 398.6,161.1 399.4,172.5 400.2,181.8 401.0,184.0 401.8,175.3 402.6,164.0 403.4,159.4 404.2,155.4 405.0,154.0 405.8,122.6 406.5,156.9 407.3,174.0 408.1,161.1 408.9,152.4 409.7,155.4 410.5,151.0 411.3,156.3 412.1,149.7 412.9,136.9 413.7,127.9 414.4,126.9 415.2,94.7 416.0,129.7 416.8,151.1 417.6,135.4 418.4,136.3 419.2,138.3 420.0,144.0 420.8,122.6 421.6,118.3 422.4,117.9 423.1,125.4 423.9,115.4 424.7,82.6"/>
<polyline class="s" stroke="#7CAE00" points="133.9,419.4 134.7,419.2 135.5,419.6 136.3,419.3 137.1,419.2 137.9,419.4 138.6,419.4 139.4,419.6 140.2,419.3 141.0,419.3 141.8,419.2 142.6,419.3 143.4,419.2 144.2,419.5 145.0,419.1 145.8,419.3 146.5,419.4 147.3,419.4 148.1,419.2 148.9,419.1 149.7,419.2 150.5,419.5 151.3,419.4 152.1,419.4 152.9,419.4 153.7,419.3 154.4,419.2 155.2,419.4 156.0,419.2 156.8,419.1 157.6,419.0 158.4,419.1 159.2,419.2 160.0,419.3 160.8,419.0 161.6,419.2 162.3,418.9 163.1,418.9 163.9,418.8 164.7,419.1 165.5,419.0 166.3,418.9 167.1,419.1 167.9,419.0 168.7,418.9 169.5,418.6 170.3,419.0 171.0,419.0 171.8,418.6 172.6,418.6 173.4,418.8 174.2,418.7 175.0,418.8 175.8,418.8 176.6,418.6 177.4,418.5 178.2,418.7 178.9,418.5 179.7,418.5 180.5,418.3 181.3,418.5 182.1,418.4 182.9,418.2 183.7,418.2 184.5,418.3 185.3,418.3 186.1,418.2 186.8,418.1 187.6,417.9 188.4,418.1 189.2,417.9 190.0,418.2 190.8,418.1 191.6,417.7 192.4,417.8 193.2,417.8 194.0,417.9 194.8,417.9 195.5,417.5 196.3,417.7 197.1,417.4 197.9,417.6 198.7,417.7 199.5,417.3 200.3,417.4 201.1,417.3 201.9,417.4 202.7,417.3 203.4,417.5 204.2,417.0 205.0,417.3 205.8,417.3 206.6,417.0 207.4,417.1 208.2,417.3 209.0,417.2 209.8,416.9 210.6,417.0 211.3,416.8 212.1,417.1 212.9,417.0 213.7,417.2 214.5,416.9 215.3,417.1 216.1,416.6 216.9,416.9 217.7,417.0 218.5,416.5 219.2,416.8 220.0,416.6 220.8,416.6 221.6,416.3 222.4,416.3 223.2,416.1 224.0,416.4 224.8,415.8 225.6,416.0 226.4,415.9 227.2,415.9 227.9,415.6 228.7,416.0 229.5,415.9 230.3,415.6 231.1,415.4 231.9,415.3 232.7,415.6 233.5,415.7 234.3,415.8 235.1,416.0 235.8,416.4 236.6,416.2 237.4,416.5 238.2,416.6 239.0,416.8 239.8,416.6 240.6,416.7 241.4,416.6 242.2,416.8 243.0,416.8 243.7,416.5 244.5,416.5 245.3,416.7 246.1,416.7 246.9,416.5 247.7,416.6 248.5,416.6 249.3,416.7 250.1,416.6 250.9,416.8 251.7,416.7 252.4,416.6 253.2,416.5 254.0,416.6 254.8,416.5 255.6,416.8 256.4,416.6 257.2,416.4 258.0,416.3 258.8,416.8 259.6,416.8 260.3,416.6 261.1,416.5 261.9,416.5 262.7,416.8 263.5,416.6 264.3,417.1 265.1,417.0 265.9,417.0 266.7,417.0 267.5,417.2 268.2,417.2 269.0,417.2 269.8,417.5 270.6,417.4 271.4,417.3 272.2,417.3 273.0,417.5 273.8,417.6 274.6,417.6 275.4,417.4 276.1,417.2 276.9,417.2 277.7,417.0 278.5,417.2 279.3,416.9 280.1,416.8 280.9,416.9 281.7,416.5 282.5,416.6 283.3,416.6 284.1,416.4 284.8,416.6 285.6,416.3 286.4,416.8 287.2,416.4 288.0,416.5 288.8,416.8 289.6,416.7 290.4,416.8 291.2,416.7 292.0,416.8 292.7,416.8 293.5,417.0 294.3,417.0 295.1,416.7 295.9,416.2 296.7,416.0 297.5,415.0 298.3,415.0 299.1,415.4 299.9,415.2 300.6,415.4 301.4,415.6 302.2,415.8 303.0,416.2 303.8,415.9 304.6,416.1 305.4,416.1 306.2,416.4 307.0,416.2 307.8,416.4 308.6,416.4 309.3,416.5 310.1,416.3 310.9,415.9 311.7,415.9 312.5,416.4 313.3,416.1 314.1,416.2 314.9,415.8 315.7,416.0 316.5,415.9 317.2,416.0 318.0,416.3 318.8,416.2 319.6,416.4 320.4,416.7 321.2,416.7 322.0,416.7 322.8,417.0 323.6,416.7 324.4,417.0 325.1,417.1 325.9,417.0 326.7,417.0 327.5,416.7 328.3,416.5 329.1,416.6 329.9,416.4 330.7,416.0 331.5,415.7 332.3,415.7 333.0,415.8 333.8,415.7 334.6,415.4 335.4,414.9 336.2,415.0 337.0,415.0 337.8,415.3 338.6,415.5 339.4,415.9 340.2,416.0 341.0,415.5 341.7,415.6 342.5,415.3 343.3,414.7 344.1,414.7 344.9,414.6 345.7,414.0 346.5,414.1 347.3,413.5 348.1,413.9 348.9,413.7 349.6,412.9 350.4,413.2 351.2,412.7 352.0,413.0 352.8,412.5 353.6,411.6 354.4,411.1 355.2,411.2 356.0,411.0 356.8,410.9 357.5,411.1 358.3,411.9 359.1,412.6 359.9,412.4 360.7,412.5 361.5,412.8 362.3,413.3 363.1,412.7 363.9,413.0 364.7,413.7 365.5,413.5 366.2,413.5 367.0,414.7 367.8,415.0 368.6,415.0 369.4,414.2 370.2,413.9 371.0,414.2 371.8,413.3 372.6,412.7 373.4,412.1 374.1,412.0 374.9,411.8 375.7,412.2 376.5,412.5 377.3,413.7 378.1,413.6 378.9,413.0 379.7,412.7 380.5,412.8 381.3,412.8 382.0,412.4 382.8,412.6 383.6,413.1 384.4,412.5 385.2,412.8 386.0,413.3 386.8,413.4 387.6,413.0 388.4,413.6 389.2,413.6 389.9,413.5 390.7,412.3 391.5,412.0 392.3,412.0 393.1,412.0 393.9,412.9 394.7,413.1 395.5,412.6 396.3,413.3 397.1,413.6 397.9,414.0 398.6,413.7 399.4,413.8 400.2,413.1 401.0,413.2 401.8,412.4 402.6,412.0 403.4,412.8 404.2,413.1 405.0,413.5 405.8,412.9 406.5,413.8 407.3,413.1 408.1,413.6 408.9,412.9 409.7,413.2 410.5,413.0 411.3,411.9 412.1,412.0 412.9,412.3 413.7,412.9 414.4,413.2 415.2,413.0 416.0,413.6 416.8,413.6 417.6,413.6 418.4,413.4 419.2,412.5 420.0,412.4 420.8,412.4 421.6,412.8 422.4,413.3 423.1,413.5 423.9,414.0 424.7,413.8"/>
<polyline class="s" stroke="#00BE67" points="77.0,412.3 77.8,412.4 78.6,412.1 79.4,412.4 80.2,412.5 81.0,412.4 81.7,412.1 82.5,412.3 83.3,411.1 84.1,412.3 84.9,412.5 85.7,412.4 86.5,412.0 87.3,411.9 88.1,411.9 88.9,411.8 89.6,412.2 90.4,412.0 91.2,412.0 92.0,411.3 92.8,409.7 93.6,412.0 94.4,412.2 95.2,411.6 96.0,411.6 96.8,411.3 97.5,411.9 98.3,411.4 99.1,411.1 99.9,410.9 100.7,411.1 101.5,410.6 102.3,409.4 103.1,411.1 103.9,411.1 104.7,410.7 105.4,410.0 106.2,410.2 107.0,409.9 107.8,409.4 108.6,409.5 109.4,409.1 110.2,408.7 111.0,408.1 111.8,406.6 112.6,408.7 113.4,409.0 114.1,408.4 114.9,408.6 115.7,407.9 116.5,407.5 117.3,407.4 118.1,408.1 118.9,407.3 119.7,407.3 120.5,406.2 121.3,403.7 122.0,407.3 122.8,406.8 123.6,407.2 124.4,406.9 125.2,406.4 126.0,406.8 126.8,406.7 127.6,406.5 128.4,406.3 129.2,405.9 129.9,404.1 130.7,400.1 131.5,403.2 132.3,403.7 133.1,403.7 133.9,401.8 134.7,399.6 135.5,399.2 136.3,396.9 137.1,397.7 137.9,399.1 138.6,400.9 139.4,409.4 140.2,406.7 141.0,403.7 141.8,403.7 142.6,401.7 143.4,401.9 144.2,400.9 145.0,401.1 145.8,399.4 146.5,399.7 147.3,398.5 148.1,398.7 148.9,397.2 149.7,393.7 150.5,398.6 151.3,399.4 152.1,397.2 152.9,397.3 153.7,395.1 154.4,395.0 155.2,394.8 156.0,393.0 156.8,395.5 157.6,396.6 158.4,396.0 159.2,396.6 160.0,396.3 160.8,395.7 161.6,397.1 162.3,396.9 163.1,396.6 163.9,394.3 164.7,394.4 165.5,392.3 166.3,391.8 167.1,391.1 167.9,391.4 168.7,389.4 169.5,393.1 170.3,393.7 171.0,393.4 171.8,393.1 172.6,393.3 173.4,392.2 174.2,392.3 175.0,391.2 175.8,391.6 176.6,392.5 177.4,391.2 178.2,388.7 178.9,392.4 179.7,393.0 180.5,391.9 181.3,393.5 182.1,391.7 182.9,392.2 183.7,391.4 184.5,391.6 185.3,390.5 186.1,391.2 186.8,390.1 187.6,386.6 188.4,390.2 189.2,390.9 190.0,388.4 190.8,387.5 191.6,386.0 192.4,386.6 193.2,384.2 194.0,383.0 194.8,383.8 195.5,381.9 196.3,381.5 197.1,378.0 197.9,387.1 198.7,388.7 199.5,388.7 200.3,386.5 201.1,386.1 201.9,386.5 202.7,385.9 203.4,384.2 204.2,383.7 205.0,382.1 205.8,382.6 206.6,374.9 207.4,385.4 208.2,387.3 209.0,386.8 209.8,386.1 210.6,384.7 211.3,385.6 212.1,385.8 212.9,384.4 213.7,383.4 214.5,382.6 215.3,383.6 216.1,381.6 216.9,385.8 217.7,386.6 218.5,386.4 219.2,383.8 220.0,384.4 220.8,383.6 221.6,382.3 222.4,382.2 223.2,380.9 224.0,382.0 224.8,380.6 225.6,376.6 226.4,385.1 227.2,386.6 227.9,385.5 228.7,382.1 229.5,380.2 230.3,378.5 231.1,378.0 231.9,378.0 232.7,377.0 233.5,378.8 234.3,377.6 235.1,376.6 235.8,383.9 236.6,384.9 237.4,385.1 238.2,382.9 239.0,383.6 239.8,382.6 240.6,380.9 241.4,375.0 242.2,371.9 243.0,368.0 243.7,366.5 244.5,363.0 245.3,368.5 246.1,369.4 246.9,370.8 247.7,367.9 248.5,367.0 249.3,366.7 250.1,366.6 250.9,364.0 251.7,365.8 252.4,363.2 253.2,364.1 254.0,362.3 254.8,362.1 255.6,361.4 256.4,360.0 257.2,362.9 258.0,365.0 258.8,363.1 259.6,363.2 260.3,363.6 261.1,362.0 261.9,360.5 262.7,360.0 263.5,364.3 264.3,369.7 265.1,373.0 265.9,368.4 266.7,364.0 267.5,363.0 268.2,355.9 269.0,354.0 269.8,356.5 270.6,358.0 271.4,350.2 272.2,347.1 273.0,346.3 273.8,346.8 274.6,342.9 275.4,342.0 276.1,344.3 276.9,347.1 277.7,346.7 278.5,341.7 279.3,337.1 280.1,322.9 280.9,320.4 281.7,320.9 282.5,316.4 283.3,332.2 284.1,335.0 284.8,338.3 285.6,337.1 286.4,335.6 287.2,330.0 288.0,325.5 288.8,327.5 289.6,322.9 290.4,319.5 291.2,321.6 292.0,318.6 292.7,335.0 293.5,337.9 294.3,330.0 295.1,328.0 295.9,329.0 296.7,328.6 297.5,323.2 298.3,325.9 299.1,320.0 299.9,319.5 300.6,311.6 301.4,292.1 302.2,325.5 303.0,331.4 303.8,324.8 304.6,321.4 305.4,322.3 306.2,328.6 307.0,322.1 307.8,323.1 308.6,317.1 309.3,310.7 310.1,314.4 310.9,314.3 311.7,320.7 312.5,328.6 313.3,325.2 314.1,319.6 314.9,315.7 315.7,313.5 316.5,313.8 317.2,308.6 318.0,304.8 318.8,307.1 319.6,301.6 320.4,288.6 321.2,311.6 322.0,315.7 322.8,318.9 323.6,325.7 324.4,326.0 325.1,318.6 325.9,314.4 326.7,320.6 327.5,317.9 328.3,313.5 329.1,315.7 329.9,310.7 330.7,336.8 331.5,341.4 332.3,337.6 333.0,328.6 333.8,325.4 334.6,322.9 335.4,324.4 336.2,320.8 337.0,320.0 337.8,318.5 338.6,315.7 339.4,304.3 340.2,325.5 341.0,329.3 341.7,323.9 342.5,318.6 343.3,315.5 344.1,320.0 344.9,292.9 345.7,296.4 346.5,305.7 347.3,305.6 348.1,301.9 348.9,292.9 349.6,314.7 350.4,318.6 351.2,312.9 352.0,311.4 352.8,314.8 353.6,318.6 354.4,307.6 355.2,297.1 356.0,300.2 356.8,310.9 357.5,311.4 358.3,313.6 359.1,315.3 359.9,313.6 360.7,302.9 361.5,301.6 362.3,291.4 363.1,286.2 363.9,290.3 364.7,288.6 365.5,284.4 366.2,287.4 367.0,290.0 367.8,296.1 368.6,303.6 369.4,295.6 370.2,291.4 371.0,289.1 371.8,285.7 372.6,284.8 373.4,278.9 374.1,278.5 374.9,277.4 375.7,280.2 376.5,273.4 377.3,263.9 378.1,278.4 378.9,281.0 379.7,273.4 380.5,264.6 381.3,266.5 382.0,273.1 382.8,251.7 383.6,257.6 384.4,260.3 385.2,257.2 386.0,256.4 386.8,247.4 387.6,268.1 388.4,271.7 389.2,263.8 389.9,254.6 390.7,257.0 391.5,250.3 392.3,258.6 393.1,260.3 393.9,260.8 394.7,261.7 395.5,257.4 396.3,247.4 397.1,276.0 397.9,281.0 398.6,270.7 399.4,267.4 400.2,268.3 401.0,270.3 401.8,268.8 402.6,256.7 403.4,262.5 404.2,256.8 405.0,256.0 405.8,239.6 406.5,277.2 407.3,283.9 408.1,273.6 408.9,271.7 409.7,268.8 410.5,270.3 411.3,257.4 412.1,260.6 412.9,263.1 413.7,260.1 414.4,260.3 415.2,253.9 416.0,284.8 416.8,290.3 417.6,284.8 418.4,280.3 419.2,288.9 420.0,285.0 420.8,270.3 421.6,270.7 422.4,262.8 423.1,267.4 423.9,263.4 424.7,253.9"/>
<polyline class="s" stroke="#00BFC4" points="77.0,414.0 77.8,413.8 78.6,413.8 79.4,413.9 80.2,413.2 81.0,413.5 81.7,413.6 82.5,413.1 83.3,411.6 84.1,413.1 84.9,413.0 85.7,412.8 86.5,413.0 87.3,412.7 88.1,412.8 88.9,413.2 89.6,413.0 90.4,413.0 91.2,412.9 92.0,412.2 92.8,410.6 93.6,412.9 94.4,412.8 95.2,412.8 96.0,412.5 96.8,412.7 97.5,412.9 98.3,412.4 99.1,413.0 99.9,413.1 100.7,412.7 101.5,412.2 102.3,411.1 103.1,412.7 103.9,412.8 104.7,412.7 105.4,412.6 106.2,413.0 107.0,412.9 107.8,412.5 108.6,412.4 109.4,412.8 110.2,412.4 111.0,411.9 111.8,410.6 112.6,412.4 113.4,412.4 114.1,412.0 114.9,412.3 115.7,412.5 116.5,412.2 117.3,412.0 118.1,412.3 118.9,412.1 119.7,412.0 120.5,411.1 121.3,409.1 122.0,412.0 122.8,411.8 123.6,412.1 124.4,412.1 125.2,412.2 126.0,412.0 126.8,411.6 127.6,411.7 128.4,412.1 129.2,411.7 129.9,410.6 130.7,408.0 131.5,411.4 132.3,412.0 133.1,412.3 133.9,411.7 134.7,411.8 135.5,411.5 136.3,412.1 137.1,411.5 137.9,411.4 138.6,411.6 139.4,410.6 140.2,408.3 141.0,411.0 141.8,411.4 142.6,410.9 143.4,411.6 144.2,411.2 145.0,411.2 145.8,411.5 146.5,411.2 147.3,411.2 148.1,410.9 148.9,409.8 149.7,407.3 150.5,410.9 151.3,410.7 152.1,410.6 152.9,410.6 153.7,410.8 154.4,410.4 155.2,410.1 156.0,410.7 156.8,410.6 157.6,410.1 158.4,406.6 159.2,407.2 160.0,407.5 160.8,407.4 161.6,408.1 162.3,408.0 163.1,408.7 163.9,408.7 164.7,409.4 165.5,408.9 166.3,409.3 167.1,409.7 167.9,409.2 168.7,408.0 169.5,409.5 170.3,409.7 171.0,409.3 171.8,409.5 172.6,409.7 173.4,410.1 174.2,410.2 175.0,409.9 175.8,409.5 176.6,409.7 177.4,409.2 178.2,408.0 178.9,409.8 179.7,410.1 180.5,410.0 181.3,410.2 182.1,410.2 182.9,409.3 183.7,409.4 184.5,409.1 185.3,408.5 186.1,407.9 186.8,407.9 187.6,405.1 188.4,407.6 189.2,407.9 190.0,408.0 190.8,408.3 191.6,408.4 192.4,408.1 193.2,407.5 194.0,407.9 194.8,407.4 195.5,407.3 196.3,406.6 197.1,404.9 197.9,407.5 198.7,408.0 199.5,407.4 200.3,408.4 201.1,407.4 201.9,407.5 202.7,407.1 203.4,407.9 204.2,407.5 205.0,407.0 205.8,407.3 206.6,404.0 207.4,408.0 208.2,408.7 209.0,408.5 209.8,408.5 210.6,408.2 211.3,408.5 212.1,408.9 212.9,409.0 213.7,409.1 214.5,408.2 215.3,408.7 216.1,406.6 216.9,409.6 217.7,410.1 218.5,410.4 219.2,410.4 220.0,409.5 220.8,409.8 221.6,409.8 222.4,409.9 223.2,409.8 224.0,409.7 224.8,409.0 225.6,407.3 226.4,410.3 227.2,410.9 227.9,410.4 228.7,411.0 229.5,410.5 230.3,410.9 231.1,410.3 231.9,410.5 232.7,411.1 233.5,410.5 234.3,410.6 235.1,408.7 235.8,410.5 236.6,410.4 237.4,410.9 238.2,410.9 239.0,411.0 239.8,410.3 240.6,409.9 241.4,409.8 242.2,409.5 243.0,409.5 243.7,409.7 244.5,407.3 245.3,409.1 246.1,409.4 246.9,409.1 247.7,408.3 248.5,407.9 249.3,407.6 250.1,407.8 250.9,406.9 251.7,406.6 252.4,405.5 253.2,405.7 254.0,403.7 254.8,404.3 255.6,403.7 256.4,404.4 257.2,403.0 258.0,403.1 258.8,401.7 259.6,401.4 260.3,400.9 261.1,400.7 261.9,401.0 262.7,401.7 263.5,402.1 264.3,401.7 265.1,402.0 265.9,401.8 266.7,402.0 267.5,402.6 268.2,402.9 269.0,403.0 269.8,402.6 270.6,401.7 271.4,402.2 272.2,401.8 273.0,399.0 273.8,402.4 274.6,402.9 275.4,403.0 276.1,404.6 276.9,406.4 277.7,407.0 278.5,404.7 279.3,403.0 280.1,402.6 280.9,400.0 281.7,399.6 282.5,398.1 283.3,396.9 284.1,397.0 284.8,397.9 285.6,398.4 286.4,398.2 287.2,398.6 288.0,399.0 288.8,398.8 289.6,398.1 290.4,398.0 291.2,398.7 292.0,398.0 292.7,399.7 293.5,399.9 294.3,400.0 295.1,399.0 295.9,398.3 296.7,399.0 297.5,398.9 298.3,397.8 299.1,398.6 299.9,399.2 300.6,398.0 301.4,397.9 302.2,395.7 303.0,395.4 303.8,395.0 304.6,395.6 305.4,397.4 306.2,399.0 307.0,399.0 307.8,398.8 308.6,399.3 309.3,397.5 310.1,398.0 310.9,398.7 311.7,398.1 312.5,397.8 313.3,396.5 314.1,397.0 314.9,395.1 315.7,394.7 316.5,395.8 317.2,394.0 318.0,391.5 318.8,390.1 319.6,390.0 320.4,390.7 321.2,390.1 322.0,389.8 322.8,389.8 323.6,388.2 324.4,389.0 325.1,387.7 325.9,388.9 326.7,389.3 327.5,390.2 328.3,390.2 329.1,390.0 329.9,391.9 330.7,393.0 331.5,392.4 332.3,391.3 333.0,389.7 333.8,388.0 334.6,388.9 335.4,388.4 336.2,388.3 337.0,389.0 337.8,389.9 338.6,387.6 339.4,384.4 340.2,389.2 341.0,390.6 341.7,390.0 342.5,390.8 343.3,389.7 344.1,387.9 344.9,389.3 345.7,388.0 346.5,387.4 347.3,388.3 348.1,387.7 348.9,387.0 349.6,394.6 350.4,395.3 351.2,395.6 352.0,396.4 352.8,396.0 353.6,395.1 354.4,392.8 355.2,393.3 356.0,391.0 356.8,391.9 357.5,391.5 358.3,390.7 359.1,390.0 359.9,389.1 360.7,387.0 361.5,388.1 362.3,387.6 363.1,390.0 363.9,389.3 364.7,386.5 365.5,384.8 366.2,385.0 367.0,383.2 367.8,383.1 368.6,384.0 369.4,384.3 370.2,385.0 371.0,386.3 371.8,385.0 372.6,385.2 373.4,386.0 374.1,383.2 374.9,384.0 375.7,383.3 376.5,384.6 377.3,386.1 378.1,388.0 378.9,383.7 379.7,382.4 380.5,383.3 381.3,385.7 382.0,387.0 382.8,386.3 383.6,386.5 384.4,385.2 385.2,386.0 386.0,387.4 386.8,388.8 387.6,389.8 388.4,391.0 389.2,391.2 389.9,389.0 390.7,387.0 391.5,388.6 392.3,386.5 393.1,389.3 393.9,388.0 394.7,386.9 395.5,388.1 396.3,385.0 397.1,385.0 397.9,385.2 398.6,382.3 399.4,383.1 400.2,382.4 401.0,381.7 401.8,384.5 402.6,381.9 403.4,384.0 404.2,381.4 405.0,382.2 405.8,381.0 406.5,379.6 407.3,380.0 408.1,377.0 408.9,376.3 409.7,379.0 410.5,376.9 411.3,375.0 412.1,373.1 412.9,370.0 413.7,370.1 414.4,374.3 415.2,374.0 416.0,371.5 416.8,369.6 417.6,372.5 418.4,368.4 419.2,371.0 420.0,370.0 420.8,369.5 421.6,371.7 422.4,369.0 423.1,372.5 423.9,372.0 424.7,373.1"/>
<polyline class="s" stroke="#00A9FF" points="77.0,419.7 77.8,419.6 78.6,419.6 79.4,419.5 80.2,419.9 81.0,419.6 81.7,419.6 82.5,419.9 83.3,419.6 84.1,419.6 84.9,419.5 85.7,419.5 86.5,419.6 87.3,419.4 88.1,419.5 88.9,419.6 89.6,419.7 90.4,419.7 91.2,419.4 92.0,419.6 92.8,419.8 93.6,419.6 94.4,419.6 95.2,419.3 96.0,419.3 96.8,419.4 97.5,419.5 98.3,419.4 99.1,419.7 99.9,419.3 100.7,419.5 101.5,419.4 102.3,419.3 103.1,419.7 103.9,419.6 104.7,419.2 105.4,419.2 106.2,419.3 107.0,419.3 107.8,419.6 108.6,419.2 109.4,419.3 110.2,419.4 111.0,419.2 111.8,419.4 112.6,419.3 113.4,419.3 114.1,419.5 114.9,419.3 115.7,419.5 116.5,419.2 117.3,419.3 118.1,419.4 118.9,419.1 119.7,419.1 120.5,419.2 121.3,419.4 122.0,419.1 122.8,419.2 123.6,419.1 124.4,419.2 125.2,419.3 126.0,419.1 126.8,419.0 127.6,419.1 128.4,419.4 129.2,419.2 129.9,419.1 130.7,419.1 131.5,419.0 132.3,419.0 133.1,419.1 133.9,419.1 134.7,419.0 135.5,418.9 136.3,419.0 137.1,419.2 137.9,418.9 138.6,418.9 139.4,418.9 140.2,419.0 141.0,418.9 141.8,418.8 142.6,418.8 143.4,418.5 144.2,418.9 145.0,418.5 145.8,418.4 146.5,418.6 147.3,418.5 148.1,418.5 148.9,418.4 149.7,418.5 150.5,418.4 151.3,418.1 152.1,418.3 152.9,418.4 153.7,418.4 154.4,418.1 155.2,418.3 156.0,418.1 156.8,417.9 157.6,418.0 158.4,418.2 159.2,417.7 160.0,418.0 160.8,418.0 161.6,418.0 162.3,417.8 163.1,417.8 163.9,417.5 164.7,417.5 165.5,417.4 166.3,417.5 167.1,417.6 167.9,417.5 168.7,417.4 169.5,417.6 170.3,417.7 171.0,417.6 171.8,417.4 172.6,417.2 173.4,417.2 174.2,417.0 175.0,417.2 175.8,417.3 176.6,417.0 177.4,417.0 178.2,416.9 178.9,416.8 179.7,417.0 180.5,417.1 181.3,416.9 182.1,417.0 182.9,416.7 183.7,417.0 184.5,416.7 185.3,416.5 186.1,416.4 186.8,416.4 187.6,416.7 188.4,416.6 189.2,416.4 190.0,416.6 190.8,416.6 191.6,416.7 192.4,416.7 193.2,416.4 194.0,416.2 194.8,416.5 195.5,416.7 196.3,416.5 197.1,416.5 197.9,416.5 198.7,416.5 199.5,416.3 200.3,416.5 201.1,416.5 201.9,416.4 202.7,416.2 203.4,416.0 204.2,416.2 205.0,416.4 205.8,416.2 206.6,415.4 207.4,416.2 208.2,416.3 209.0,416.1 209.8,416.5 210.6,416.1 211.3,416.3 212.1,416.5 212.9,416.3 213.7,416.1 214.5,416.5 215.3,416.1 216.1,416.1 216.9,416.3 217.7,416.3 218.5,416.2 219.2,416.3 220.0,416.3 220.8,416.6 221.6,416.6 222.4,416.2 223.2,416.7 224.0,416.7 224.8,416.3 225.6,416.5 226.4,416.7 227.2,416.8 227.9,416.7 228.7,416.8 229.5,416.7 230.3,417.0 231.1,416.9 231.9,417.1 232.7,417.1 233.5,417.0 234.3,416.9 235.1,417.1 235.8,416.8 236.6,416.7 237.4,417.2 238.2,417.2 239.0,417.0 239.8,417.3 240.6,417.1 241.4,417.2 242.2,417.0 243.0,417.2 243.7,417.1 244.5,417.4 245.3,417.3 246.1,417.2 246.9,417.2 247.7,417.1 248.5,417.3 249.3,417.1 250.1,417.0 250.9,417.1 251.7,416.9 252.4,416.9 253.2,417.0 254.0,417.1 254.8,416.7 255.6,416.9 256.4,416.9 257.2,415.0 258.0,415.3 258.8,415.6 259.6,415.7 260.3,415.2 261.1,415.5 261.9,415.6 262.7,415.6 263.5,416.0 264.3,416.3 265.1,416.1 265.9,416.4 266.7,416.5 267.5,416.7 268.2,416.5 269.0,416.6 269.8,416.7 270.6,416.7 271.4,417.0 272.2,416.7 273.0,417.0 273.8,417.0 274.6,417.0 275.4,417.0 276.1,416.5 276.9,416.6 277.7,416.4 278.5,416.4 279.3,416.3 280.1,416.6 280.9,416.4 281.7,416.0 282.5,416.2 283.3,416.2 284.1,416.0 284.8,416.1 285.6,416.1 286.4,415.9 287.2,415.7 288.0,415.6 288.8,416.1 289.6,416.0 290.4,415.8 291.2,416.0 292.0,415.5 292.7,416.0 293.5,415.6 294.3,415.6 295.1,415.7 295.9,415.7 296.7,415.4 297.5,415.8 298.3,415.6 299.1,415.9 299.9,415.9 300.6,415.7 301.4,416.0 302.2,416.2 303.0,416.1 303.8,416.2 304.6,415.9 305.4,415.9 306.2,416.0 307.0,416.0 307.8,415.8 308.6,415.6 309.3,415.7 310.1,415.9 310.9,415.7 311.7,415.7 312.5,416.0 313.3,415.7 314.1,415.6 314.9,415.6 315.7,415.6 316.5,415.6 317.2,414.9 318.0,414.9 318.8,414.5 319.6,414.0 320.4,414.1 321.2,413.6 322.0,413.5 322.8,412.7 323.6,412.6 324.4,412.8 325.1,412.9 325.9,412.4 326.7,412.8 327.5,412.4 328.3,412.3 329.1,413.5 329.9,413.3 330.7,412.8 331.5,413.5 332.3,413.6 333.0,412.6 333.8,412.9 334.6,412.5 335.4,411.7 336.2,410.9 337.0,409.8 337.8,410.0 338.6,410.9 339.4,412.8 340.2,414.0 341.0,414.4 341.7,414.1 342.5,413.7 343.3,413.4 344.1,414.0 344.9,413.3 345.7,413.8 346.5,414.2 347.3,413.4 348.1,413.6 348.9,413.6 349.6,413.2 350.4,413.7 351.2,412.9 352.0,413.2 352.8,413.0 353.6,413.1 354.4,412.7 355.2,413.6 356.0,413.0 356.8,413.1 357.5,412.3 358.3,413.2 359.1,412.1 359.9,412.4 360.7,412.7 361.5,412.3 362.3,412.2 363.1,411.2 363.9,411.6 364.7,411.9 365.5,410.6 366.2,411.3 367.0,411.0 367.8,409.6 368.6,411.6 369.4,412.0 370.2,411.3 371.0,411.5 371.8,412.0 372.6,412.0 373.4,411.0 374.1,411.0 374.9,410.2 375.7,410.4 376.5,410.7 377.3,410.3 378.1,410.2 378.9,410.4 379.7,410.0 380.5,410.6 381.3,411.0 382.0,411.1 382.8,411.4 383.6,411.0 384.4,411.2 385.2,411.3 386.0,410.6 386.8,410.4 387.6,409.8 388.4,410.4 389.2,411.1 389.9,410.7 390.7,411.2 391.5,411.6 392.3,411.6 393.1,412.0 393.9,411.4 394.7,411.4 395.5,411.0 396.3,409.6 397.1,410.8 397.9,410.6 398.6,410.7 399.4,411.2 400.2,411.0 401.0,410.1 401.8,411.3 402.6,410.7 403.4,410.9 404.2,410.0 405.0,409.8 405.8,410.4 406.5,408.6 407.3,409.0 408.1,409.0 408.9,408.7 409.7,410.2 410.5,409.4 411.3,410.6 412.1,410.0 412.9,410.4 413.7,409.3 414.4,408.7 415.2,409.4 416.0,409.0 416.8,409.1 417.6,408.7 418.4,408.9 419.2,408.6 420.0,408.4 420.8,407.8 421.6,409.1 422.4,408.1 423.1,408.2 423.9,408.0 424.7,409.1"/>
<polyline class="s" stroke="#C77CFF" points="77.0,406.6 77.8,406.9 78.6,407.6 79.4,407.7 80.2,408.0 81.0,407.6 81.7,406.6 82.5,406.6 83.3,403.4 84.1,406.1 84.9,406.6 85.7,406.0 86.5,406.2 87.3,405.2 88.1,405.4 88.9,404.4 89.6,404.6 90.4,404.6 91.2,403.9 92.0,403.6 92.8,401.6 93.6,404.6 94.4,405.1 95.2,404.7 96.0,404.2 96.8,404.3 97.5,404.3 98.3,404.0 99.1,403.3 99.9,403.4 100.7,402.8 101.5,402.7 102.3,399.7 103.1,403.7 103.9,404.1 104.7,404.4 105.4,403.6 106.2,402.5 107.0,402.1 107.8,401.9 108.6,400.9 109.4,399.6 110.2,399.7 111.0,399.4 111.8,395.9 112.6,400.1 113.4,400.9 114.1,400.4 114.9,398.9 115.7,398.9 116.5,398.3 117.3,398.3 118.1,397.3 118.9,396.7 119.7,396.9 120.5,395.4 121.3,390.9 122.0,397.5 122.8,398.7 123.6,398.7 124.4,398.2 125.2,397.5 126.0,396.5 126.8,395.9 127.6,394.5 128.4,394.6 129.2,393.5 129.9,393.6 130.7,388.3 131.5,396.5 132.3,398.0 133.1,396.4 133.9,396.7 134.7,395.9 135.5,394.4 136.3,394.8 137.1,393.0 137.9,392.3 138.6,391.8 139.4,392.8 140.2,391.6 141.0,390.7 141.8,389.6 142.6,387.8 143.4,387.7 144.2,387.3 145.0,385.7 145.8,385.9 146.5,385.3 147.3,383.6 148.1,383.7 148.9,381.1 149.7,375.1 150.5,385.1 151.3,384.4 152.1,381.6 152.9,384.6 153.7,386.6 154.4,384.5 155.2,385.2 156.0,383.7 156.8,384.0 157.6,384.8 158.4,385.1 159.2,387.1 160.0,388.1 160.8,388.6 161.6,389.6 162.3,390.4 163.1,390.1 163.9,389.7 164.7,389.8 165.5,389.9 166.3,388.6 167.1,388.0 167.9,388.9 168.7,385.9 169.5,389.5 170.3,389.5 171.0,390.1 171.8,389.3 172.6,391.3 173.4,390.8 174.2,390.6 175.0,389.0 175.8,388.3 176.6,388.3 177.4,387.7 178.2,380.9 178.9,386.9 179.7,388.0 180.5,387.7 181.3,387.9 182.1,386.5 182.9,385.6 183.7,385.1 184.5,385.9 185.3,384.0 186.1,383.1 186.8,383.5 187.6,378.0 188.4,387.1 189.2,388.7 190.0,389.1 190.8,386.3 191.6,385.6 192.4,384.6 193.2,384.4 194.0,383.2 194.8,383.5 195.5,383.6 196.3,382.5 197.1,378.0 197.9,382.2 198.7,383.0 199.5,383.3 200.3,383.9 201.1,385.3 201.9,384.6 202.7,384.4 203.4,384.5 204.2,383.4 205.0,384.4 205.8,382.9 206.6,379.4 207.4,384.3 208.2,385.1 209.0,385.6 209.8,383.1 210.6,385.0 211.3,382.6 212.1,384.5 212.9,383.0 213.7,382.1 214.5,382.4 215.3,381.0 216.1,376.3 216.9,384.4 217.7,385.9 218.5,385.6 219.2,384.5 220.0,381.2 220.8,381.5 221.6,379.4 222.4,377.1 223.2,378.0 224.0,378.0 224.8,376.5 225.6,369.7 226.4,374.3 227.2,375.1 227.9,372.4 228.7,371.0 229.5,371.1 230.3,369.3 231.1,368.7 231.9,366.1 232.7,369.2 233.5,365.5 234.3,365.9 235.1,359.4 235.8,365.5 236.6,366.6 237.4,356.0 238.2,353.2 239.0,349.6 239.8,351.2 240.6,346.0 241.4,340.2 242.2,336.0 243.0,335.6 243.7,332.6 244.5,324.6 245.3,340.4 246.1,343.1 246.9,346.3 247.7,348.9 248.5,343.0 249.3,341.7 250.1,340.1 250.9,345.5 251.7,346.0 252.4,343.3 253.2,342.6 254.0,334.6 254.8,344.3 255.6,346.0 256.4,333.1 257.2,330.1 258.0,331.7 258.8,328.1 259.6,324.6 260.3,321.7 261.1,334.6 261.9,330.5 262.7,330.1 263.5,319.6 264.3,333.1 265.1,327.6 265.9,324.6 266.7,328.1 267.5,330.2 268.2,336.7 269.0,331.4 269.8,321.7 270.6,333.1 271.4,321.9 272.2,314.6 273.0,311.7 273.8,321.2 274.6,322.9 275.4,316.8 276.1,317.1 276.9,316.7 277.7,318.6 278.5,312.7 279.3,308.6 280.1,297.7 280.9,294.3 281.7,289.4 282.5,277.9 283.3,297.1 284.1,294.2 284.8,298.6 285.6,302.1 286.4,308.5 287.2,307.1 288.0,303.4 288.8,306.9 289.6,300.0 290.4,302.9 291.2,299.0 292.0,290.0 292.7,317.1 293.5,320.6 294.3,320.6 295.1,320.0 295.9,318.5 296.7,319.9 297.5,317.1 298.3,316.9 299.1,315.7 299.9,310.6 300.6,311.4 301.4,301.4 302.2,306.3 303.0,307.1 303.8,305.2 304.6,292.3 305.4,290.7 306.2,297.1 307.0,293.0 307.8,293.9 308.6,294.3 309.3,293.2 310.1,287.9 310.9,272.9 311.7,292.3 312.5,295.7 313.3,288.6 314.1,295.5 314.9,304.3 315.7,301.2 316.5,306.9 317.2,307.1 318.0,303.7 318.8,300.0 319.6,291.6 320.4,272.1 321.2,291.4 322.0,289.5 322.8,295.9 323.6,294.3 324.4,298.9 325.1,300.0 325.9,293.2 326.7,294.8 327.5,291.4 328.3,281.4 329.1,271.6 329.9,248.6 330.7,273.6 331.5,280.7 332.3,278.0 333.0,273.1 333.8,266.0 334.6,275.6 335.4,285.1 336.2,288.0 337.0,281.5 337.8,270.0 338.6,281.4 339.4,279.4 340.2,292.0 341.0,286.8 341.7,278.0 342.5,273.9 343.3,268.0 344.1,277.4 344.9,278.0 345.7,278.1 346.5,275.0 347.3,270.0 348.1,262.2 348.9,244.0 349.6,281.4 350.4,288.0 351.2,282.5 352.0,268.0 352.8,266.4 353.6,276.0 354.4,273.2 355.2,278.0 356.0,281.5 356.8,274.0 357.5,269.7 358.3,259.6 359.1,279.6 359.9,283.1 360.7,293.1 361.5,292.1 362.3,282.2 363.1,280.3 363.9,278.9 364.7,276.0 365.5,282.0 366.2,278.9 367.0,273.7 367.8,261.7 368.6,282.4 369.4,286.0 370.2,272.7 371.0,268.9 371.8,276.1 372.6,276.0 373.4,278.2 374.1,278.9 374.9,265.6 375.7,254.6 376.5,251.1 377.3,243.1 378.1,260.1 378.9,263.1 379.7,248.9 380.5,246.6 381.3,253.0 382.0,257.4 382.8,243.1 383.6,238.9 384.4,238.9 385.2,235.4 386.0,235.8 386.8,228.6 387.6,245.0 388.4,247.9 389.2,251.1 389.9,245.0 390.7,234.4 391.5,233.6 392.3,234.8 393.1,228.6 393.9,222.6 394.7,227.9 395.5,222.9 396.3,211.4 397.1,238.8 397.9,243.6 398.6,244.8 399.4,232.1 400.2,230.8 401.0,227.1 401.8,237.9 402.6,231.5 403.4,215.0 404.2,214.3 405.0,208.1 405.8,193.6 406.5,230.0 407.3,236.4 408.1,214.3 408.9,217.2 409.7,211.5 410.5,220.7 411.3,222.6 412.1,212.1 412.9,204.2 413.7,212.9 414.4,203.6 415.2,180.4 416.0,218.9 416.8,225.7 417.6,205.9 418.4,197.1 419.2,210.4 420.0,211.4 420.8,202.5 421.6,199.3 422.4,202.7 423.1,193.6 423.9,184.8 424.7,164.3"/>
<polyline class="s" stroke="#FF61CC" points="77.0,417.3 77.8,417.4 78.6,417.1 79.4,417.0 80.2,417.2 81.0,417.1 81.7,417.0 82.5,416.9 83.3,415.1 84.1,416.9 84.9,417.0 85.7,416.8 86.5,416.6 87.3,416.8 88.1,416.7 88.9,416.8 89.6,416.5 90.4,416.8 91.2,416.6 92.0,415.9 92.8,414.4 93.6,416.6 94.4,416.6 95.2,416.4 96.0,416.5 96.8,416.3 97.5,416.3 98.3,416.5 99.1,416.3 99.9,416.3 100.7,416.3 101.5,415.9 102.3,415.1 103.1,416.3 103.9,416.4 104.7,416.3 105.4,416.2 106.2,416.1 107.0,416.2 107.8,416.2 108.6,415.8 109.4,415.8 110.2,415.9 111.0,415.4 111.8,414.4 112.6,415.9 113.4,415.6 114.1,415.6 114.9,415.6 115.7,415.5 116.5,415.3 117.3,415.5 118.1,415.2 118.9,415.4 119.7,415.1 120.5,414.5 121.3,413.0 122.0,415.1 122.8,414.9 123.6,415.1 124.4,414.9 125.2,414.9 126.0,414.8 126.8,414.6 127.6,414.7 128.4,414.4 129.2,414.4 129.9,413.8 130.7,412.3 131.5,414.1 132.3,414.4 133.1,414.3 133.9,413.5 134.7,413.7 135.5,412.9 136.3,412.9 137.1,412.3 137.9,411.6 138.6,411.4 139.4,411.2 140.2,408.7 141.0,409.3 141.8,409.2 142.6,409.4 143.4,409.4 144.2,408.8 145.0,408.1 145.8,408.1 146.5,407.6 147.3,406.6 148.1,405.5 148.9,405.1 149.7,401.6 150.5,407.0 151.3,408.0 152.1,407.3 152.9,406.5 153.7,406.7 154.4,405.5 155.2,406.3 156.0,405.1 156.8,404.6 157.6,404.0 158.4,404.1 159.2,401.6 160.0,402.2 160.8,403.0 161.6,402.8 162.3,402.5 163.1,402.5 163.9,402.3 164.7,401.3 165.5,401.7 166.3,400.9 167.1,401.4 167.9,401.0 168.7,398.0 169.5,402.2 170.3,401.9 171.0,403.0 171.8,402.9 172.6,402.3 173.4,402.3 174.2,402.3 175.0,402.6 175.8,401.2 176.6,401.3 177.4,400.2 178.2,395.4 178.9,398.8 179.7,399.4 180.5,398.1 181.3,398.7 182.1,398.4 182.9,397.5 183.7,398.6 184.5,397.3 185.3,396.6 186.1,395.7 186.8,393.2 187.6,392.3 188.4,390.7 189.2,390.9 190.0,391.1 190.8,392.2 191.6,393.9 192.4,396.6 193.2,397.2 194.0,396.8 194.8,394.4 195.5,395.3 196.3,394.8 197.1,390.6 197.9,396.9 198.7,398.0 199.5,398.0 200.3,396.7 201.1,397.0 201.9,395.8 202.7,395.9 203.4,396.4 204.2,396.4 205.0,395.9 205.8,395.0 206.6,393.0 207.4,396.6 208.2,397.3 209.0,397.4 209.8,397.7 210.6,397.2 211.3,397.7 212.1,399.0 212.9,398.7 213.7,398.4 214.5,397.9 215.3,397.7 216.1,395.4 216.9,398.2 217.7,398.7 218.5,397.8 219.2,397.5 220.0,394.9 220.8,393.7 221.6,393.7 222.4,394.9 223.2,392.6 224.0,394.5 224.8,393.3 225.6,392.3 226.4,397.1 227.2,398.0 227.9,398.7 228.7,397.8 229.5,396.9 230.3,396.5 231.1,395.9 231.9,396.4 232.7,393.9 233.5,393.5 234.3,393.6 235.1,388.3 235.8,394.1 236.6,394.9 237.4,395.1 238.2,393.5 239.0,393.3 239.8,392.9 240.6,391.8 241.4,391.6 242.2,390.6 243.0,392.1 243.7,390.9 244.5,389.4 245.3,393.7 246.1,394.4 246.9,395.0 247.7,395.5 248.5,395.5 249.3,394.9 250.1,395.1 250.9,394.1 251.7,394.9 252.4,394.6 253.2,393.9 254.0,391.1 254.8,395.1 255.6,395.1 256.4,395.9 257.2,394.0 258.0,394.3 258.8,397.0 259.6,394.1 260.3,393.0 261.1,391.8 261.9,389.0 262.7,387.5 263.5,384.0 264.3,387.4 265.1,386.3 265.9,388.0 266.7,386.5 267.5,387.5 268.2,384.9 269.0,384.0 269.8,382.9 270.6,383.2 271.4,381.6 272.2,381.0 273.0,374.0 273.8,383.4 274.6,383.2 275.4,385.0 276.1,387.5 276.9,385.6 277.7,388.0 278.5,386.5 279.3,382.7 280.1,383.4 280.9,380.0 281.7,379.9 282.5,378.2 283.3,378.2 284.1,377.0 284.8,380.2 285.6,382.0 286.4,379.9 287.2,379.7 288.0,377.7 288.8,378.0 289.6,379.1 290.4,376.9 291.2,376.8 292.0,374.0 292.7,380.8 293.5,381.3 294.3,382.0 295.1,381.5 295.9,380.4 296.7,379.0 297.5,379.0 298.3,376.0 299.1,376.4 299.9,372.3 300.6,371.0 301.4,376.2 302.2,375.5 303.0,380.0 303.8,377.8 304.6,378.6 305.4,374.7 306.2,373.0 307.0,373.0 307.8,370.7 308.6,370.0 309.3,372.3 310.1,369.0 310.9,370.5 311.7,369.7 312.5,364.2 313.3,366.0 314.1,364.8 314.9,362.3 315.7,363.0 316.5,363.9 317.2,363.2 318.0,360.1 318.8,362.4 319.6,360.0 320.4,365.8 321.2,365.7 322.0,371.0 322.8,366.1 323.6,364.2 324.4,364.0 325.1,367.1 325.9,365.6 326.7,362.9 327.5,366.6 328.3,366.0 329.1,367.4 329.9,369.1 330.7,371.0 331.5,366.3 332.3,366.1 333.0,361.0 333.8,363.4 334.6,367.3 335.4,367.0 336.2,361.1 337.0,354.9 337.8,350.0 338.6,349.7 339.4,356.1 340.2,358.0 341.0,354.0 341.7,349.0 342.5,347.1 343.3,351.7 344.1,351.0 344.9,346.6 345.7,348.6 346.5,350.0 347.3,346.0 348.1,342.1 348.9,340.7 349.6,338.0 350.4,351.0 351.2,343.9 352.0,334.0 352.8,334.2 353.6,327.4 354.4,330.0 355.2,328.0 356.0,328.0 356.8,326.3 357.5,318.6 358.3,321.6 359.1,330.0 359.9,320.0 360.7,315.4 361.5,304.3 362.3,299.9 363.1,296.8 363.9,298.6 364.7,303.3 365.5,296.6 366.2,300.0 367.0,301.1 367.8,305.7 368.6,320.7 369.4,316.2 370.2,308.6 371.0,303.1 371.8,302.4 372.6,304.3 373.4,309.5 374.1,309.6 374.9,304.3 375.7,308.6 376.5,305.1 377.3,297.1 378.1,315.4 378.9,318.6 379.7,314.5 380.5,304.3 381.3,304.8 382.0,302.1 382.8,299.1 383.6,305.7 384.4,311.8 385.2,309.3 386.0,309.1 386.8,308.6 387.6,313.4 388.4,314.3 389.2,316.1 389.9,308.6 390.7,311.2 391.5,307.9 392.3,309.6 393.1,312.4 393.9,310.7 394.7,314.2 395.5,315.3 396.3,314.3 397.1,321.9 397.9,325.7 398.6,313.6 399.4,310.9 400.2,318.6 401.0,313.7 401.8,314.3 402.6,309.6 403.4,306.2 404.2,310.0 405.0,308.7 405.8,305.7 406.5,317.9 407.3,320.0 408.1,311.8 408.9,308.6 409.7,310.3 410.5,307.1 411.3,307.8 412.1,305.0 412.9,304.6 413.7,307.1 414.4,304.4 415.2,297.9 416.0,313.0 416.8,315.7 417.6,317.8 418.4,309.3 419.2,314.3 420.0,317.0 420.8,310.7 421.6,314.2 422.4,309.3 423.1,304.3 423.9,302.4 424.7,297.9"/>
</g>
<text class="tt" x="483.9" y="132.6">State</text>
<rect x="483.9" y="141.25" width="23.04" height="23.04" fill="#FDD1CE"/>
<polyline class="s" stroke="#F8766D" points="483.9,162.0 493.1,150.5 497.7,155.1 506.9,143.6"/>
<text class="lg" x="514.20" y="156.97" textLength="142.49" lengthAdjust="spacing">Australian Capital Territory</text>
<rect x="483.9" y="164.29" width="23.04" height="23.04" fill="#FFF1CC"/>
<polyline class="s" stroke="#CD9600" points="483.9,185.0 493.1,173.5 497.7,178.1 506.9,166.6"/>
<text class="lg" x="514.20" y="180.01" textLength="94.51" lengthAdjust="spacing">New South Wales</text>
<rect x="483.9" y="187.33" width="23.04" height="23.04" fill="#F0FFCC"/>
<polyline class="s" stroke="#7CAE00" points="483.9,208.1 493.1,196.5 497.7,201.2 506.9,189.6"/>
<text class="lg" x="514.20" y="203.05" textLength="93.62" lengthAdjust="spacing">Northern Territory</text>
<rect x="483.9" y="210.37" width="23.04" height="23.04" fill="#CCFFE8"/>
<polyline class="s" stroke="#00BE67" points="483.9,231.1 493.1,219.6 497.7,224.2 506.9,212.7"/>
<text class="lg" x="514.20" y="226.09" textLength="66.08" lengthAdjust="spacing">Queensland</text>
<rect x="483.9" y="233.41" width="23.04" height="23.04" fill="#CCFEFF"/>
<polyline class="s" stroke="#00BFC4" points="483.9,254.1 493.1,242.6 497.7,247.2 506.9,235.7"/>
<text class="lg" x="514.20" y="249.13" textLength="81.06" lengthAdjust="spacing">South Australia</text>
<rect x="483.9" y="256.45" width="23.04" height="23.04" fill="#CCEEFF"/>
<polyline class="s" stroke="#00A9FF" points="483.9,277.2 493.1,265.7 497.7,270.3 506.9,258.8"/>
<text class="lg" x="514.20" y="272.17" textLength="52.44" lengthAdjust="spacing">Tasmania</text>
<rect x="483.9" y="279.49" width="23.04" height="23.04" fill="#E9CCFF"/>
<polyline class="s" stroke="#C77CFF" points="483.9,300.2 493.1,288.7 497.7,293.3 506.9,281.8"/>
<text class="lg" x="514.20" y="295.21" textLength="40.26" lengthAdjust="spacing">Victoria</text>
<rect x="483.9" y="302.53" width="23.04" height="23.04" fill="#FFCCEF"/>
<polyline class="s" stroke="#FF61CC" points="483.9,323.3 493.1,311.7 497.7,316.4 506.9,304.8"/>
<text class="lg" x="514.20" y="318.25" textLength="94.08" lengthAdjust="spacing">Western Australia</text>
</svg></body></html>
